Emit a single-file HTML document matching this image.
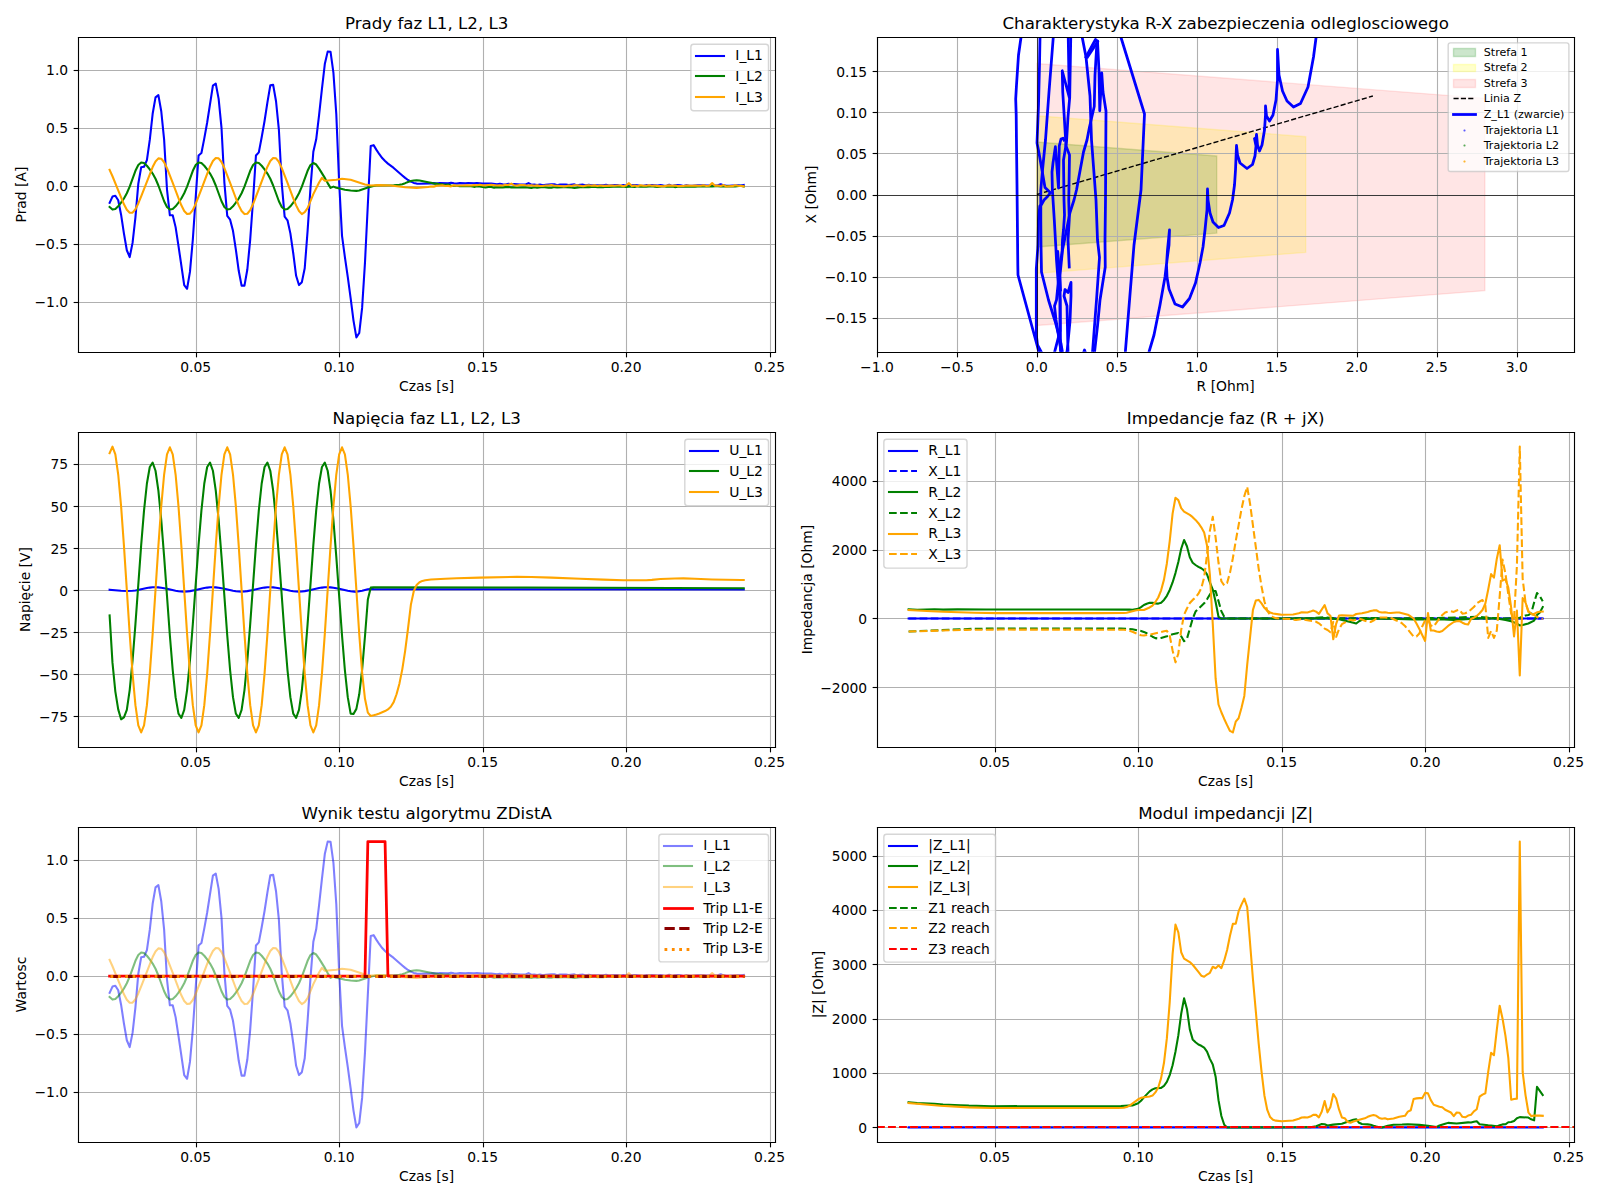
<!DOCTYPE html>
<html><head><meta charset="utf-8"><title>ZDistA</title>
<style>html,body{margin:0;padding:0;background:#fff}svg{display:block}</style></head><body>
<svg  width="1600" height="1200" viewBox="0 0 1152 864"  version="1.1">
 
 <defs>
  <style type="text/css">*{stroke-linejoin: round; stroke-linecap: butt}</style>
 </defs>
 <g id="figure_1">
  <g id="patch_1">
   <path d="M 0.0000 864.0000 L 1152.0000 864.0000 L 1152.0000 0.0000 L 0.0000 0.0000 z" style="fill: #ffffff"/>
  </g>
  <g id="axes_1">
   <g id="patch_2">
    <path d="M 56.1600 253.4400 L 558.0000 253.4400 L 558.0000 26.6400 L 56.1600 26.6400 z" style="fill: #ffffff"/>
   </g>
   <g id="matplotlib.axis_1">
    <g id="xtick_1">
     <g id="line2d_1">
      <path d="M 141.4800 253.8000 L 141.4800 27.0000" clip-path="url(#p59557860de)" style="fill: none; stroke: #b0b0b0; stroke-width: 0.8; stroke-linecap: square"/>
     </g>
     <g id="line2d_2">
      <defs>
       <path id="me4258ba3a0" d="M 0 0 
L 0 3.5 
" style="stroke: #000000; stroke-width: 0.8"/>
      </defs>
      <g>
       <use href="#me4258ba3a0" x="141.4800" y="253.8000" style="stroke: #000000; stroke-width: 0.8"/>
      </g>
     </g>
     <g id="text_1">
      <text style="font-size: 10px; font-family: 'DejaVu Sans', 'Liberation Sans', sans-serif; text-anchor: middle" x="140.896355" y="267.838438" transform="rotate(-0 140.896355 267.838438)">0.05</text>
     </g>
    </g>
    <g id="xtick_2">
     <g id="line2d_3">
      <path d="M 244.4400 253.8000 L 244.4400 27.0000" clip-path="url(#p59557860de)" style="fill: none; stroke: #b0b0b0; stroke-width: 0.8; stroke-linecap: square"/>
     </g>
     <g id="line2d_4">
      <g>
       <use href="#me4258ba3a0" x="244.4400" y="253.8000" style="stroke: #000000; stroke-width: 0.8"/>
      </g>
     </g>
     <g id="text_2">
      <text style="font-size: 10px; font-family: 'DejaVu Sans', 'Liberation Sans', sans-serif; text-anchor: middle" x="244.192768" y="267.838438" transform="rotate(-0 244.192768 267.838438)">0.10</text>
     </g>
    </g>
    <g id="xtick_3">
     <g id="line2d_5">
      <path d="M 348.1200 253.8000 L 348.1200 27.0000" clip-path="url(#p59557860de)" style="fill: none; stroke: #b0b0b0; stroke-width: 0.8; stroke-linecap: square"/>
     </g>
     <g id="line2d_6">
      <g>
       <use href="#me4258ba3a0" x="348.1200" y="253.8000" style="stroke: #000000; stroke-width: 0.8"/>
      </g>
     </g>
     <g id="text_3">
      <text style="font-size: 10px; font-family: 'DejaVu Sans', 'Liberation Sans', sans-serif; text-anchor: middle" x="347.489181" y="267.838438" transform="rotate(-0 347.489181 267.838438)">0.15</text>
     </g>
    </g>
    <g id="xtick_4">
     <g id="line2d_7">
      <path d="M 451.0800 253.8000 L 451.0800 27.0000" clip-path="url(#p59557860de)" style="fill: none; stroke: #b0b0b0; stroke-width: 0.8; stroke-linecap: square"/>
     </g>
     <g id="line2d_8">
      <g>
       <use href="#me4258ba3a0" x="451.0800" y="253.8000" style="stroke: #000000; stroke-width: 0.8"/>
      </g>
     </g>
     <g id="text_4">
      <text style="font-size: 10px; font-family: 'DejaVu Sans', 'Liberation Sans', sans-serif; text-anchor: middle" x="450.785595" y="267.838438" transform="rotate(-0 450.785595 267.838438)">0.20</text>
     </g>
    </g>
    <g id="xtick_5">
     <g id="line2d_9">
      <path d="M 554.7600 253.8000 L 554.7600 27.0000" clip-path="url(#p59557860de)" style="fill: none; stroke: #b0b0b0; stroke-width: 0.8; stroke-linecap: square"/>
     </g>
     <g id="line2d_10">
      <g>
       <use href="#me4258ba3a0" x="554.7600" y="253.8000" style="stroke: #000000; stroke-width: 0.8"/>
      </g>
     </g>
     <g id="text_5">
      <text style="font-size: 10px; font-family: 'DejaVu Sans', 'Liberation Sans', sans-serif; text-anchor: middle" x="554.082008" y="267.838438" transform="rotate(-0 554.082008 267.838438)">0.25</text>
     </g>
    </g>
    <g id="text_6">
     <text style="font-size: 10px; font-family: 'DejaVu Sans', 'Liberation Sans', sans-serif; text-anchor: middle" x="307.20358" y="281.516563" transform="rotate(-0 307.20358 281.516563)">Czas [s]</text>
    </g>
   </g>
   <g id="matplotlib.axis_2">
    <g id="ytick_1">
     <g id="line2d_11">
      <path d="M 56.5200 217.8000 L 558.3600 217.8000" clip-path="url(#p59557860de)" style="fill: none; stroke: #b0b0b0; stroke-width: 0.8; stroke-linecap: square"/>
     </g>
     <g id="line2d_12">
      <defs>
       <path id="m37318fec9a" d="M 0 0 
L -3.5 0 
" style="stroke: #000000; stroke-width: 0.8"/>
      </defs>
      <g>
       <use href="#m37318fec9a" x="56.5200" y="217.8000" style="stroke: #000000; stroke-width: 0.8"/>
      </g>
     </g>
     <g id="text_7">
      <text style="font-size: 10px; font-family: 'DejaVu Sans', 'Liberation Sans', sans-serif; text-anchor: end" x="49.09" y="221.335676" transform="rotate(-0 49.09 221.335676)">−1.0</text>
     </g>
    </g>
    <g id="ytick_2">
     <g id="line2d_13">
      <path d="M 56.5200 176.0400 L 558.3600 176.0400" clip-path="url(#p59557860de)" style="fill: none; stroke: #b0b0b0; stroke-width: 0.8; stroke-linecap: square"/>
     </g>
     <g id="line2d_14">
      <g>
       <use href="#m37318fec9a" x="56.5200" y="176.0400" style="stroke: #000000; stroke-width: 0.8"/>
      </g>
     </g>
     <g id="text_8">
      <text style="font-size: 10px; font-family: 'DejaVu Sans', 'Liberation Sans', sans-serif; text-anchor: end" x="49.09" y="179.535591" transform="rotate(-0 49.09 179.535591)">−0.5</text>
     </g>
    </g>
    <g id="ytick_3">
     <g id="line2d_15">
      <path d="M 56.5200 134.2800 L 558.3600 134.2800" clip-path="url(#p59557860de)" style="fill: none; stroke: #b0b0b0; stroke-width: 0.8; stroke-linecap: square"/>
     </g>
     <g id="line2d_16">
      <g>
       <use href="#m37318fec9a" x="56.5200" y="134.2800" style="stroke: #000000; stroke-width: 0.8"/>
      </g>
     </g>
     <g id="text_9">
      <text style="font-size: 10px; font-family: 'DejaVu Sans', 'Liberation Sans', sans-serif; text-anchor: end" x="49.09" y="137.735506" transform="rotate(-0 49.09 137.735506)">0.0</text>
     </g>
    </g>
    <g id="ytick_4">
     <g id="line2d_17">
      <path d="M 56.5200 92.5200 L 558.3600 92.5200" clip-path="url(#p59557860de)" style="fill: none; stroke: #b0b0b0; stroke-width: 0.8; stroke-linecap: square"/>
     </g>
     <g id="line2d_18">
      <g>
       <use href="#m37318fec9a" x="56.5200" y="92.5200" style="stroke: #000000; stroke-width: 0.8"/>
      </g>
     </g>
     <g id="text_10">
      <text style="font-size: 10px; font-family: 'DejaVu Sans', 'Liberation Sans', sans-serif; text-anchor: end" x="49.09" y="95.935421" transform="rotate(-0 49.09 95.935421)">0.5</text>
     </g>
    </g>
    <g id="ytick_5">
     <g id="line2d_19">
      <path d="M 56.5200 50.7600 L 558.3600 50.7600" clip-path="url(#p59557860de)" style="fill: none; stroke: #b0b0b0; stroke-width: 0.8; stroke-linecap: square"/>
     </g>
     <g id="line2d_20">
      <g>
       <use href="#m37318fec9a" x="56.5200" y="50.7600" style="stroke: #000000; stroke-width: 0.8"/>
      </g>
     </g>
     <g id="text_11">
      <text style="font-size: 10px; font-family: 'DejaVu Sans', 'Liberation Sans', sans-serif; text-anchor: end" x="49.09" y="54.135336" transform="rotate(-0 49.09 54.135336)">1.0</text>
     </g>
    </g>
    <g id="text_12">
     <text style="font-size: 10px; font-family: 'DejaVu Sans', 'Liberation Sans', sans-serif; text-anchor: middle" x="18.7275" y="140.06" transform="rotate(-90 18.7275 140.06)">Prad [A]</text>
    </g>
   </g>
   <g id="line2d_21">
    <path d="M 78.918507 146.058312 
L 80.984436 141.543903 
L 83.050364 140.958702 
L 85.116292 144.219108 
L 87.18222 154.58553 
L 89.248149 168.212357 
L 91.314077 180.167182 
L 93.380005 185.099592 
L 95.445933 174.900371 
L 97.511862 156.508333 
L 99.57779 132.264284 
L 101.643718 120.47666 
L 103.709646 120.058659 
L 105.775575 115.29345 
L 107.841503 100.74702 
L 109.907431 81.936982 
L 111.97336 70.065758 
L 114.039288 68.477355 
L 116.105216 80.097778 
L 118.171144 100.49622 
L 120.237073 136.444293 
L 122.303001 155.00353 
L 124.368929 155.00353 
L 126.434857 163.530748 
L 128.500786 176.990375 
L 132.632642 205.247232 
L 134.69857 207.922438 
L 136.764499 195.800413 
L 138.830427 172.475966 
L 142.962283 111.949443 
L 145.028212 110.193839 
L 147.09414 99.660218 
L 149.160068 88.206995 
L 153.291925 61.705741 
L 155.357853 60.200938 
L 157.423781 71.15256 
L 159.48971 92.136203 
L 161.555638 131.428282 
L 163.621566 155.421531 
L 165.687494 158.180337 
L 167.753423 166.205953 
L 169.819351 179.66558 
L 171.885279 194.964412 
L 173.951207 205.665233 
L 176.017136 205.665233 
L 178.083064 194.04481 
L 180.148992 172.475966 
L 182.21492 143.801108 
L 184.280849 111.949443 
L 186.346777 109.692238 
L 188.412705 98.824216 
L 190.478634 87.120192 
L 192.544562 73.744165 
L 194.61049 61.45494 
L 196.676418 61.12054 
L 198.742347 72.908164 
L 200.808275 93.557405 
L 202.874203 132.264284 
L 204.940131 155.923132 
L 207.00606 158.598338 
L 209.071988 168.045157 
L 211.137916 182.340786 
L 213.203844 198.559219 
L 215.269773 205.247232 
L 217.335701 203.157228 
L 219.401629 193.125208 
L 221.467557 166.205953 
L 223.533486 135.608291 
L 225.599414 109.274237 
L 227.665342 100.329019 
L 229.731271 82.940184 
L 231.797199 63.962945 
L 233.863127 46.156109 
L 235.929055 37.169091 
L 237.994984 37.294491 
L 240.060912 52.342522 
L 242.12684 82.104182 
L 244.192768 131.428282 
L 246.258697 169.80076 
L 248.324625 185.099592 
L 250.390553 199.395221 
L 252.456481 214.694052 
L 254.52241 230.828884 
L 256.588338 242.950909 
L 258.654266 239.774103 
L 260.720194 221.716466 
L 262.786123 189.1124 
L 266.917979 105.094229 
L 268.983907 104.509028 
L 271.049836 107.936635 
L 273.115764 111.029841 
L 275.181692 113.788647 
L 277.247621 115.962251 
L 279.313549 117.801455 
L 283.445405 120.894661 
L 289.64319 126.328672 
L 291.709118 128.084276 
L 293.775047 129.589079 
L 295.840975 130.759481 
L 297.906903 131.679083 
L 299.972831 132.180684 
L 302.03876 132.264284 
L 310.302473 132.025427 
L 312.368401 131.847442 
L 314.434329 132.163805 
L 316.500258 131.808057 
L 322.698042 132.031898 
L 324.763971 131.547919 
L 326.829899 132.011474 
L 328.895827 132.123402 
L 330.961755 131.830167 
L 335.093612 132.012609 
L 337.15954 131.850191 
L 341.291397 131.971226 
L 343.357325 131.862125 
L 347.489181 132.226021 
L 353.686966 132.178652 
L 357.818823 132.689062 
L 359.884751 132.32946 
L 361.950679 132.669018 
L 364.016608 132.839449 
L 366.082536 132.395258 
L 368.148464 132.663695 
L 370.214392 132.453194 
L 374.346249 132.874976 
L 376.412177 132.942181 
L 378.478105 132.831705 
L 380.544034 131.81982 
L 382.609962 132.979789 
L 384.67589 132.908237 
L 386.741818 133.212331 
L 388.807747 132.930057 
L 390.873675 133.324679 
L 392.939603 133.007042 
L 397.07146 132.77175 
L 399.137388 132.658379 
L 401.203316 133.358671 
L 403.269245 132.891552 
L 405.335173 132.814732 
L 407.401101 132.878629 
L 409.467029 133.294515 
L 413.598886 132.744973 
L 415.664814 133.463377 
L 417.730742 133.067611 
L 419.796671 132.951417 
L 421.862599 133.346194 
L 423.928527 133.095485 
L 425.994455 133.457863 
L 434.258169 133.319941 
L 436.324097 133.118236 
L 438.390025 133.530885 
L 442.521882 133.166941 
L 444.58781 133.267324 
L 446.653738 133.678097 
L 448.719666 133.278939 
L 450.785595 133.534676 
L 452.851523 133.358219 
L 454.917451 133.38 
L 456.983379 133.192083 
L 459.049308 133.426638 
L 461.115236 133.842523 
L 463.181164 133.745456 
L 465.247092 133.310421 
L 467.313021 133.521299 
L 469.378949 133.233551 
L 473.510806 133.6361 
L 475.576734 133.2574 
L 477.642662 133.656448 
L 479.70859 133.920781 
L 481.774519 133.064523 
L 483.840447 133.899283 
L 485.906375 133.371003 
L 487.972303 133.311871 
L 490.038232 133.481433 
L 492.10416 133.868078 
L 494.170088 133.308187 
L 496.236016 133.825687 
L 498.301945 133.809301 
L 502.433801 133.37184 
L 504.499729 133.477992 
L 506.565658 133.375343 
L 508.631586 133.641594 
L 510.697514 133.588937 
L 512.763443 133.79469 
L 516.895299 133.44122 
L 518.961227 132.628725 
L 521.027156 133.473969 
L 523.093084 133.697233 
L 525.159012 133.705307 
L 527.22494 133.577388 
L 529.290869 133.630383 
L 531.356797 133.469922 
L 533.422725 133.560546 
L 535.488653 133.238154 
L 535.488653 133.238154 
" clip-path="url(#p59557860de)" style="fill: none; stroke: #0000ff; stroke-width: 1.5; stroke-linecap: square"/>
   </g>
   <g id="line2d_22">
    <path d="M 78.918507 149.063989 
L 80.984436 150.904217 
L 83.050364 150.472849 
L 85.116292 148.542582 
L 87.18222 145.934057 
L 89.248149 142.914741 
L 91.314077 139.162752 
L 93.380005 134.307392 
L 97.511862 122.967303 
L 99.57779 118.808586 
L 101.643718 116.968358 
L 103.709646 117.399726 
L 105.775575 119.329993 
L 107.841503 121.938518 
L 109.907431 124.957834 
L 111.97336 128.709823 
L 114.039288 133.565183 
L 118.171144 144.905272 
L 120.237073 149.063989 
L 122.303001 150.904217 
L 124.368929 150.472849 
L 126.434857 148.542582 
L 128.500786 145.934057 
L 130.566714 142.914741 
L 132.632642 139.162752 
L 134.69857 134.307392 
L 138.830427 122.967303 
L 140.896355 118.808586 
L 142.962283 116.968358 
L 145.028212 117.399726 
L 147.09414 119.329993 
L 149.160068 121.938518 
L 151.225997 124.957834 
L 153.291925 128.709823 
L 155.357853 133.565183 
L 159.48971 144.905272 
L 161.555638 149.063989 
L 163.621566 150.904217 
L 165.687494 150.472849 
L 167.753423 148.542582 
L 169.819351 145.934057 
L 171.885279 142.914741 
L 173.951207 139.162752 
L 176.017136 134.307392 
L 180.148992 122.967303 
L 182.21492 118.808586 
L 184.280849 116.968358 
L 186.346777 117.399726 
L 188.412705 119.329993 
L 190.478634 121.938518 
L 192.544562 124.957834 
L 194.61049 128.709823 
L 196.676418 133.565183 
L 200.808275 144.905272 
L 202.874203 149.063989 
L 204.940131 150.904217 
L 207.00606 150.472849 
L 209.071988 148.542582 
L 211.137916 145.934057 
L 213.203844 142.914741 
L 215.269773 139.162752 
L 217.335701 134.307392 
L 221.467557 122.967303 
L 223.533486 118.808586 
L 225.599414 117.383454 
L 227.665342 118.470256 
L 229.731271 121.396262 
L 233.863127 128.084276 
L 235.929055 131.846283 
L 237.994984 135.27389 
L 240.060912 134.354288 
L 242.12684 135.19029 
L 246.258697 136.139152 
L 248.324625 136.611493 
L 252.456481 137.113094 
L 256.588338 137.447495 
L 258.654266 137.096374 
L 262.786123 135.691891 
L 264.852051 134.93949 
L 268.983907 133.936288 
L 271.049836 133.518287 
L 283.445405 133.438487 
L 287.577262 133.005145 
L 289.64319 132.598685 
L 291.709118 131.866643 
L 293.775047 131.010282 
L 295.840975 130.34148 
L 297.906903 129.942479 
L 299.972831 129.756279 
L 302.03876 129.958283 
L 308.236544 131.216819 
L 310.302473 131.599233 
L 312.368401 132.199488 
L 314.434329 132.198955 
L 316.500258 132.763728 
L 318.566186 132.778768 
L 320.632114 133.004677 
L 322.698042 132.883601 
L 324.763971 133.53857 
L 326.829899 133.754866 
L 328.895827 133.772879 
L 330.961755 133.997093 
L 337.15954 134.076754 
L 339.225468 134.040611 
L 341.291397 134.539655 
L 343.357325 134.057507 
L 345.423253 134.230897 
L 349.55511 135.019115 
L 351.621038 134.679463 
L 353.686966 134.68167 
L 355.752895 135.105076 
L 357.818823 134.733735 
L 361.950679 134.923993 
L 364.016608 134.708896 
L 366.082536 134.665099 
L 368.148464 134.932459 
L 370.214392 134.829199 
L 372.280321 134.991842 
L 374.346249 135.02704 
L 378.478105 134.829304 
L 382.609962 135.30137 
L 384.67589 134.837862 
L 386.741818 135.205509 
L 390.873675 134.640761 
L 395.005532 135.127385 
L 397.07146 135.164585 
L 399.137388 134.714384 
L 401.203316 134.900873 
L 405.335173 134.71409 
L 407.401101 134.860434 
L 411.532958 134.973542 
L 413.598886 135.31047 
L 417.730742 134.764263 
L 419.796671 134.759852 
L 421.862599 134.640622 
L 423.928527 134.706605 
L 428.060384 134.508278 
L 430.126312 134.765524 
L 432.19224 134.643474 
L 434.258169 134.842623 
L 436.324097 134.390331 
L 438.390025 134.526495 
L 444.58781 134.298558 
L 446.653738 134.473759 
L 448.719666 134.318253 
L 450.785595 134.67727 
L 452.851523 134.354204 
L 454.917451 134.392451 
L 456.983379 134.675242 
L 459.049308 134.170129 
L 461.115236 134.500593 
L 463.181164 134.257864 
L 465.247092 134.431636 
L 467.313021 134.184725 
L 469.378949 134.120966 
L 471.444877 134.468806 
L 473.510806 134.57567 
L 477.642662 134.157771 
L 479.70859 134.351965 
L 481.774519 134.382784 
L 483.840447 134.189038 
L 485.906375 134.723044 
L 487.972303 134.363267 
L 490.038232 134.474483 
L 492.10416 134.184988 
L 496.236016 134.403653 
L 498.301945 134.268119 
L 500.367873 134.446449 
L 502.433801 134.195315 
L 504.499729 134.299629 
L 508.631586 134.290976 
L 510.697514 134.011672 
L 512.763443 134.175789 
L 514.829371 134.063535 
L 516.895299 134.064924 
L 518.961227 134.274118 
L 521.027156 134.038495 
L 529.290869 134.185969 
L 533.422725 133.742041 
L 535.488653 134.242285 
L 535.488653 134.242285 
" clip-path="url(#p59557860de)" style="fill: none; stroke: #008000; stroke-width: 1.5; stroke-linecap: square"/>
   </g>
   <g id="line2d_23">
    <path d="M 78.918507 122.259868 
L 80.984436 126.896515 
L 85.116292 137.024858 
L 89.248149 147.078477 
L 91.314077 151.034565 
L 93.380005 153.223619 
L 95.445933 153.078789 
L 97.511862 150.631232 
L 99.57779 146.482999 
L 101.643718 141.440162 
L 109.907431 120.257497 
L 111.97336 116.217269 
L 114.039288 114.025924 
L 116.105216 114.243246 
L 118.171144 116.813616 
L 120.237073 121.103082 
L 124.368929 131.736963 
L 128.500786 142.690685 
L 130.566714 147.791724 
L 132.632642 151.859649 
L 134.69857 154.051749 
L 136.764499 153.810563 
L 138.830427 151.199763 
L 140.896355 146.863805 
L 145.028212 136.148526 
L 149.160068 125.1408 
L 151.225997 120.022701 
L 153.291925 115.945657 
L 155.357853 113.753309 
L 157.423781 114.002352 
L 159.48971 116.62646 
L 161.555638 120.977724 
L 165.687494 131.719798 
L 169.819351 142.745301 
L 171.885279 147.869017 
L 173.951207 151.949062 
L 176.017136 154.141492 
L 178.083064 153.889863 
L 180.148992 151.261374 
L 182.21492 146.905072 
L 186.346777 136.154177 
L 190.478634 125.122821 
L 192.544562 119.997256 
L 194.61049 115.916223 
L 196.676418 113.723767 
L 198.742347 113.976246 
L 200.808275 116.606178 
L 202.874203 120.964139 
L 207.00606 131.717938 
L 211.137916 142.75122 
L 213.203844 147.877393 
L 215.269773 151.958752 
L 217.335701 154.151217 
L 219.401629 152.746326 
L 221.467557 149.82032 
L 225.599414 139.788299 
L 229.731271 131.428282 
L 231.797199 128.084276 
L 233.863127 130.17428 
L 242.12684 129.421878 
L 246.258697 128.753077 
L 252.456481 129.421878 
L 262.786123 132.849485 
L 266.917979 133.518287 
L 273.115764 133.267486 
L 281.379477 133.518287 
L 291.709118 134.772289 
L 299.972831 135.27389 
L 308.236544 134.605089 
L 310.302473 134.242822 
L 312.368401 134.367604 
L 314.434329 133.799685 
L 316.500258 133.514724 
L 318.566186 133.389206 
L 320.632114 133.89431 
L 322.698042 133.843054 
L 324.763971 134.221089 
L 326.829899 133.306575 
L 328.895827 133.750247 
L 330.961755 133.578158 
L 333.027684 133.570615 
L 335.093612 133.434709 
L 337.15954 133.449379 
L 339.225468 133.619072 
L 341.291397 133.281528 
L 343.357325 133.381398 
L 345.423253 133.009184 
L 347.489181 133.451962 
L 349.55511 133.424135 
L 351.621038 133.143468 
L 353.686966 133.009251 
L 357.818823 133.550689 
L 359.884751 133.422721 
L 361.950679 133.538741 
L 364.016608 132.958959 
L 366.082536 133.23019 
L 368.148464 132.156162 
L 370.214392 133.421759 
L 372.280321 133.657512 
L 374.346249 133.244932 
L 376.412177 133.145275 
L 378.478105 133.435031 
L 380.544034 133.607969 
L 382.609962 133.351678 
L 384.67589 133.736763 
L 386.741818 133.47284 
L 388.807747 133.863953 
L 390.873675 133.930033 
L 392.939603 133.545777 
L 395.005532 133.604266 
L 397.07146 133.212596 
L 399.137388 133.761625 
L 401.203316 133.686671 
L 405.335173 134.163723 
L 407.401101 134.142714 
L 409.467029 133.581114 
L 411.532958 133.993541 
L 413.598886 133.417018 
L 415.664814 133.344089 
L 419.796671 134.123217 
L 421.862599 133.647345 
L 423.928527 133.423365 
L 425.994455 133.763289 
L 428.060384 133.467298 
L 430.126312 133.945621 
L 432.19224 133.554045 
L 434.258169 133.826563 
L 440.455953 133.671608 
L 442.521882 133.734754 
L 444.58781 133.534751 
L 446.653738 133.517012 
L 448.719666 134.066994 
L 450.785595 133.580628 
L 452.851523 131.881698 
L 454.917451 133.911698 
L 456.983379 133.627584 
L 459.049308 134.057639 
L 461.115236 133.365715 
L 463.181164 133.78748 
L 465.247092 133.748756 
L 467.313021 133.429924 
L 469.378949 133.767208 
L 471.444877 133.582384 
L 473.510806 133.996452 
L 475.576734 133.877835 
L 477.642662 134.085347 
L 481.774519 133.479889 
L 483.840447 133.683569 
L 485.906375 133.519051 
L 487.972303 133.999379 
L 492.10416 133.861119 
L 494.170088 133.601936 
L 498.301945 133.751727 
L 500.367873 133.592915 
L 502.433801 133.788219 
L 504.499729 133.756824 
L 506.565658 133.425349 
L 508.631586 133.900817 
L 510.697514 133.709141 
L 512.763443 131.847055 
L 514.829371 133.731755 
L 516.895299 133.581286 
L 518.961227 133.911824 
L 521.027156 133.270149 
L 523.093084 134.326231 
L 525.159012 134.047688 
L 527.22494 134.028682 
L 529.290869 133.359307 
L 531.356797 133.67833 
L 535.488653 134.090553 
L 535.488653 134.090553 
" clip-path="url(#p59557860de)" style="fill: none; stroke: #ffa500; stroke-width: 1.5; stroke-linecap: square"/>
   </g>
   <g id="patch_3">
    <path d="M 56.5200 253.8000 L 56.5200 27.0000" style="fill: none; stroke: #000000; stroke-width: 0.8; stroke-linejoin: miter; stroke-linecap: square"/>
   </g>
   <g id="patch_4">
    <path d="M 558.3600 253.8000 L 558.3600 27.0000" style="fill: none; stroke: #000000; stroke-width: 0.8; stroke-linejoin: miter; stroke-linecap: square"/>
   </g>
   <g id="patch_5">
    <path d="M 56.5200 253.8000 L 558.3600 253.8000" style="fill: none; stroke: #000000; stroke-width: 0.8; stroke-linejoin: miter; stroke-linecap: square"/>
   </g>
   <g id="patch_6">
    <path d="M 56.5200 27.0000 L 558.3600 27.0000" style="fill: none; stroke: #000000; stroke-width: 0.8; stroke-linejoin: miter; stroke-linecap: square"/>
   </g>
   <g id="text_13">
    <text style="font-size: 12px; font-family: 'DejaVu Sans', 'Liberation Sans', sans-serif; text-anchor: middle" x="307.20358" y="20.88" transform="rotate(-0 307.20358 20.88)">Prady faz L1, L2, L3</text>
   </g>
   <g id="legend_1">
    <g id="patch_7">
     <path d="M 499.432786 79.74875 
L 551.317161 79.74875 
Q 553.317161 79.74875 553.317161 77.74875 
L 553.317161 33.88 
Q 553.317161 31.88 551.317161 31.88 
L 499.432786 31.88 
Q 497.432786 31.88 497.432786 33.88 
L 497.432786 77.74875 
Q 497.432786 79.74875 499.432786 79.74875 
z
" style="fill: #ffffff; opacity: 0.8; stroke: #cccccc; stroke-linejoin: miter"/>
    </g>
    <g id="line2d_24">
     <path d="M 501.1200 40.3200 L 511.2000 40.3200 L 521.2800 40.3200" style="fill: none; stroke: #0000ff; stroke-width: 1.5; stroke-linecap: square"/>
    </g>
    <g id="text_14">
     <text style="font-size: 10px; font-family: 'DejaVu Sans', 'Liberation Sans', sans-serif; text-anchor: start" x="529.432786" y="43.478438" transform="rotate(-0 529.432786 43.478438)">I_L1</text>
    </g>
    <g id="line2d_25">
     <path d="M 501.1200 54.7200 L 511.2000 54.7200 L 521.2800 54.7200" style="fill: none; stroke: #008000; stroke-width: 1.5; stroke-linecap: square"/>
    </g>
    <g id="text_15">
     <text style="font-size: 10px; font-family: 'DejaVu Sans', 'Liberation Sans', sans-serif; text-anchor: start" x="529.432786" y="58.434687" transform="rotate(-0 529.432786 58.434687)">I_L2</text>
    </g>
    <g id="line2d_26">
     <path d="M 501.1200 69.8400 L 511.2000 69.8400 L 521.2800 69.8400" style="fill: none; stroke: #ffa500; stroke-width: 1.5; stroke-linecap: square"/>
    </g>
    <g id="text_16">
     <text style="font-size: 10px; font-family: 'DejaVu Sans', 'Liberation Sans', sans-serif; text-anchor: start" x="529.432786" y="73.390938" transform="rotate(-0 529.432786 73.390938)">I_L3</text>
    </g>
   </g>
  </g>
  <g id="axes_2">
   <g id="patch_8">
    <path d="M 631.4400 253.4400 L 1133.2800 253.4400 L 1133.2800 26.6400 L 631.4400 26.6400 z" style="fill: #ffffff"/>
   </g>
   <g id="patch_9">
    <path d="M 746.559716 177.88517 
L 876.032956 167.823675 
L 876.032956 112.296325 
L 746.559716 102.23483 
z
" clip-path="url(#p8312197129)" style="fill: #008000; fill-opacity: 0.2; stroke: #008000; stroke-opacity: 0.2; stroke-linejoin: miter"/>
   </g>
   <g id="patch_10">
    <path d="M 746.559716 196.797755 
L 940.078438 181.705512 
L 940.078438 98.414488 
L 746.559716 83.322245 
z
" clip-path="url(#p8312197129)" style="fill: #ffff00; fill-opacity: 0.2; stroke: #ffff00; stroke-opacity: 0.2; stroke-linejoin: miter"/>
   </g>
   <g id="patch_11">
    <path d="M 746.559716 234.386517 
L 1069.09092 209.295663 
L 1069.09092 70.824337 
L 746.559716 45.733483 
z
" clip-path="url(#p8312197129)" style="fill: #ff0000; fill-opacity: 0.1; stroke: #ff0000; stroke-opacity: 0.1; stroke-linejoin: miter"/>
   </g>
   <g id="matplotlib.axis_3">
    <g id="xtick_6">
     <g id="line2d_27">
      <path d="M 631.8000 253.8000 L 631.8000 27.0000" clip-path="url(#p8312197129)" style="fill: none; stroke: #b0b0b0; stroke-width: 0.8; stroke-linecap: square"/>
     </g>
     <g id="line2d_28">
      <g>
       <use href="#me4258ba3a0" x="631.8000" y="253.8000" style="stroke: #000000; stroke-width: 0.8"/>
      </g>
     </g>
     <g id="text_17">
      <text style="font-size: 10px; font-family: 'DejaVu Sans', 'Liberation Sans', sans-serif; text-anchor: middle" x="631.37" y="267.838438" transform="rotate(-0 631.37 267.838438)">−1.0</text>
     </g>
    </g>
    <g id="xtick_7">
     <g id="line2d_29">
      <path d="M 689.4000 253.8000 L 689.4000 27.0000" clip-path="url(#p8312197129)" style="fill: none; stroke: #b0b0b0; stroke-width: 0.8; stroke-linecap: square"/>
     </g>
     <g id="line2d_30">
      <g>
       <use href="#me4258ba3a0" x="689.4000" y="253.8000" style="stroke: #000000; stroke-width: 0.8"/>
      </g>
     </g>
     <g id="text_18">
      <text style="font-size: 10px; font-family: 'DejaVu Sans', 'Liberation Sans', sans-serif; text-anchor: middle" x="688.964858" y="267.838438" transform="rotate(-0 688.964858 267.838438)">−0.5</text>
     </g>
    </g>
    <g id="xtick_8">
     <g id="line2d_31">
      <path d="M 747.0000 253.8000 L 747.0000 27.0000" clip-path="url(#p8312197129)" style="fill: none; stroke: #b0b0b0; stroke-width: 0.8; stroke-linecap: square"/>
     </g>
     <g id="line2d_32">
      <g>
       <use href="#me4258ba3a0" x="747.0000" y="253.8000" style="stroke: #000000; stroke-width: 0.8"/>
      </g>
     </g>
     <g id="text_19">
      <text style="font-size: 10px; font-family: 'DejaVu Sans', 'Liberation Sans', sans-serif; text-anchor: middle" x="746.559716" y="267.838438" transform="rotate(-0 746.559716 267.838438)">0.0</text>
     </g>
    </g>
    <g id="xtick_9">
     <g id="line2d_33">
      <path d="M 804.6000 253.8000 L 804.6000 27.0000" clip-path="url(#p8312197129)" style="fill: none; stroke: #b0b0b0; stroke-width: 0.8; stroke-linecap: square"/>
     </g>
     <g id="line2d_34">
      <g>
       <use href="#me4258ba3a0" x="804.6000" y="253.8000" style="stroke: #000000; stroke-width: 0.8"/>
      </g>
     </g>
     <g id="text_20">
      <text style="font-size: 10px; font-family: 'DejaVu Sans', 'Liberation Sans', sans-serif; text-anchor: middle" x="804.154574" y="267.838438" transform="rotate(-0 804.154574 267.838438)">0.5</text>
     </g>
    </g>
    <g id="xtick_10">
     <g id="line2d_35">
      <path d="M 862.2000 253.8000 L 862.2000 27.0000" clip-path="url(#p8312197129)" style="fill: none; stroke: #b0b0b0; stroke-width: 0.8; stroke-linecap: square"/>
     </g>
     <g id="line2d_36">
      <g>
       <use href="#me4258ba3a0" x="862.2000" y="253.8000" style="stroke: #000000; stroke-width: 0.8"/>
      </g>
     </g>
     <g id="text_21">
      <text style="font-size: 10px; font-family: 'DejaVu Sans', 'Liberation Sans', sans-serif; text-anchor: middle" x="861.749432" y="267.838438" transform="rotate(-0 861.749432 267.838438)">1.0</text>
     </g>
    </g>
    <g id="xtick_11">
     <g id="line2d_37">
      <path d="M 919.8000 253.8000 L 919.8000 27.0000" clip-path="url(#p8312197129)" style="fill: none; stroke: #b0b0b0; stroke-width: 0.8; stroke-linecap: square"/>
     </g>
     <g id="line2d_38">
      <g>
       <use href="#me4258ba3a0" x="919.8000" y="253.8000" style="stroke: #000000; stroke-width: 0.8"/>
      </g>
     </g>
     <g id="text_22">
      <text style="font-size: 10px; font-family: 'DejaVu Sans', 'Liberation Sans', sans-serif; text-anchor: middle" x="919.344289" y="267.838438" transform="rotate(-0 919.344289 267.838438)">1.5</text>
     </g>
    </g>
    <g id="xtick_12">
     <g id="line2d_39">
      <path d="M 977.4000 253.8000 L 977.4000 27.0000" clip-path="url(#p8312197129)" style="fill: none; stroke: #b0b0b0; stroke-width: 0.8; stroke-linecap: square"/>
     </g>
     <g id="line2d_40">
      <g>
       <use href="#me4258ba3a0" x="977.4000" y="253.8000" style="stroke: #000000; stroke-width: 0.8"/>
      </g>
     </g>
     <g id="text_23">
      <text style="font-size: 10px; font-family: 'DejaVu Sans', 'Liberation Sans', sans-serif; text-anchor: middle" x="976.939147" y="267.838438" transform="rotate(-0 976.939147 267.838438)">2.0</text>
     </g>
    </g>
    <g id="xtick_13">
     <g id="line2d_41">
      <path d="M 1035.0000 253.8000 L 1035.0000 27.0000" clip-path="url(#p8312197129)" style="fill: none; stroke: #b0b0b0; stroke-width: 0.8; stroke-linecap: square"/>
     </g>
     <g id="line2d_42">
      <g>
       <use href="#me4258ba3a0" x="1035.0000" y="253.8000" style="stroke: #000000; stroke-width: 0.8"/>
      </g>
     </g>
     <g id="text_24">
      <text style="font-size: 10px; font-family: 'DejaVu Sans', 'Liberation Sans', sans-serif; text-anchor: middle" x="1034.534005" y="267.838438" transform="rotate(-0 1034.534005 267.838438)">2.5</text>
     </g>
    </g>
    <g id="xtick_14">
     <g id="line2d_43">
      <path d="M 1092.6000 253.8000 L 1092.6000 27.0000" clip-path="url(#p8312197129)" style="fill: none; stroke: #b0b0b0; stroke-width: 0.8; stroke-linecap: square"/>
     </g>
     <g id="line2d_44">
      <g>
       <use href="#me4258ba3a0" x="1092.6000" y="253.8000" style="stroke: #000000; stroke-width: 0.8"/>
      </g>
     </g>
     <g id="text_25">
      <text style="font-size: 10px; font-family: 'DejaVu Sans', 'Liberation Sans', sans-serif; text-anchor: middle" x="1092.128863" y="267.838438" transform="rotate(-0 1092.128863 267.838438)">3.0</text>
     </g>
    </g>
    <g id="text_26">
     <text style="font-size: 10px; font-family: 'DejaVu Sans', 'Liberation Sans', sans-serif; text-anchor: middle" x="882.48358" y="281.516563" transform="rotate(-0 882.48358 281.516563)">R [Ohm]</text>
    </g>
   </g>
   <g id="matplotlib.axis_4">
    <g id="ytick_6">
     <g id="line2d_45">
      <path d="M 631.8000 229.3200 L 1133.6400 229.3200" clip-path="url(#p8312197129)" style="fill: none; stroke: #b0b0b0; stroke-width: 0.8; stroke-linecap: square"/>
     </g>
     <g id="line2d_46">
      <g>
       <use href="#m37318fec9a" x="631.8000" y="229.3200" style="stroke: #000000; stroke-width: 0.8"/>
      </g>
     </g>
     <g id="text_27">
      <text style="font-size: 10px; font-family: 'DejaVu Sans', 'Liberation Sans', sans-serif; text-anchor: end" x="624.37" y="232.51196" transform="rotate(-0 624.37 232.51196)">−0.15</text>
     </g>
    </g>
    <g id="ytick_7">
     <g id="line2d_47">
      <path d="M 631.8000 199.8000 L 1133.6400 199.8000" clip-path="url(#p8312197129)" style="fill: none; stroke: #b0b0b0; stroke-width: 0.8; stroke-linecap: square"/>
     </g>
     <g id="line2d_48">
      <g>
       <use href="#m37318fec9a" x="631.8000" y="199.8000" style="stroke: #000000; stroke-width: 0.8"/>
      </g>
     </g>
     <g id="text_28">
      <text style="font-size: 10px; font-family: 'DejaVu Sans', 'Liberation Sans', sans-serif; text-anchor: end" x="624.37" y="202.961046" transform="rotate(-0 624.37 202.961046)">−0.10</text>
     </g>
    </g>
    <g id="ytick_8">
     <g id="line2d_49">
      <path d="M 631.8000 170.2800 L 1133.6400 170.2800" clip-path="url(#p8312197129)" style="fill: none; stroke: #b0b0b0; stroke-width: 0.8; stroke-linecap: square"/>
     </g>
     <g id="line2d_50">
      <g>
       <use href="#m37318fec9a" x="631.8000" y="170.2800" style="stroke: #000000; stroke-width: 0.8"/>
      </g>
     </g>
     <g id="text_29">
      <text style="font-size: 10px; font-family: 'DejaVu Sans', 'Liberation Sans', sans-serif; text-anchor: end" x="624.37" y="173.410133" transform="rotate(-0 624.37 173.410133)">−0.05</text>
     </g>
    </g>
    <g id="ytick_9">
     <g id="line2d_51">
      <path d="M 631.8000 140.7600 L 1133.6400 140.7600" clip-path="url(#p8312197129)" style="fill: none; stroke: #b0b0b0; stroke-width: 0.8; stroke-linecap: square"/>
     </g>
     <g id="line2d_52">
      <g>
       <use href="#m37318fec9a" x="631.8000" y="140.7600" style="stroke: #000000; stroke-width: 0.8"/>
      </g>
     </g>
     <g id="text_30">
      <text style="font-size: 10px; font-family: 'DejaVu Sans', 'Liberation Sans', sans-serif; text-anchor: end" x="624.37" y="143.859219" transform="rotate(-0 624.37 143.859219)">0.00</text>
     </g>
    </g>
    <g id="ytick_10">
     <g id="line2d_53">
      <path d="M 631.8000 110.5200 L 1133.6400 110.5200" clip-path="url(#p8312197129)" style="fill: none; stroke: #b0b0b0; stroke-width: 0.8; stroke-linecap: square"/>
     </g>
     <g id="line2d_54">
      <g>
       <use href="#m37318fec9a" x="631.8000" y="110.5200" style="stroke: #000000; stroke-width: 0.8"/>
      </g>
     </g>
     <g id="text_31">
      <text style="font-size: 10px; font-family: 'DejaVu Sans', 'Liberation Sans', sans-serif; text-anchor: end" x="624.37" y="114.308305" transform="rotate(-0 624.37 114.308305)">0.05</text>
     </g>
    </g>
    <g id="ytick_11">
     <g id="line2d_55">
      <path d="M 631.8000 81.0000 L 1133.6400 81.0000" clip-path="url(#p8312197129)" style="fill: none; stroke: #b0b0b0; stroke-width: 0.8; stroke-linecap: square"/>
     </g>
     <g id="line2d_56">
      <g>
       <use href="#m37318fec9a" x="631.8000" y="81.0000" style="stroke: #000000; stroke-width: 0.8"/>
      </g>
     </g>
     <g id="text_32">
      <text style="font-size: 10px; font-family: 'DejaVu Sans', 'Liberation Sans', sans-serif; text-anchor: end" x="624.37" y="84.757391" transform="rotate(-0 624.37 84.757391)">0.10</text>
     </g>
    </g>
    <g id="ytick_12">
     <g id="line2d_57">
      <path d="M 631.8000 51.4800 L 1133.6400 51.4800" clip-path="url(#p8312197129)" style="fill: none; stroke: #b0b0b0; stroke-width: 0.8; stroke-linecap: square"/>
     </g>
     <g id="line2d_58">
      <g>
       <use href="#m37318fec9a" x="631.8000" y="51.4800" style="stroke: #000000; stroke-width: 0.8"/>
      </g>
     </g>
     <g id="text_33">
      <text style="font-size: 10px; font-family: 'DejaVu Sans', 'Liberation Sans', sans-serif; text-anchor: end" x="624.37" y="55.206477" transform="rotate(-0 624.37 55.206477)">0.15</text>
     </g>
    </g>
    <g id="text_34">
     <text style="font-size: 10px; font-family: 'DejaVu Sans', 'Liberation Sans', sans-serif; text-anchor: middle" x="587.645" y="140.06" transform="rotate(-90 587.645 140.06)">X [Ohm]</text>
    </g>
   </g>
   <g id="line2d_59">
    <path d="M 746.559716 140.06 
L 988.458119 69.137807 
" clip-path="url(#p8312197129)" style="fill: none; stroke-dasharray: 3.7,1.6; stroke-dashoffset: 0; stroke: #000000"/>
   </g>
   <g id="line2d_60">
    <path d="M 737.279988 7.200025 
L 735.119987 27.000024 
L 733.319987 39.600024 
L 731.879987 61.200023 
L 731.303987 71.280022 
L 731.663987 82.800022 
L 731.879987 104.400021 
L 732.239987 133.20002 
L 732.815987 190.800018 
L 732.959987 198.000018 
L 746.639988 248.400016 
L 748.079988 253.800016 
L 753.119988 273.600015 
" clip-path="url(#p8312197129)" style="fill: none; stroke: #0000ff; stroke-width: 2; stroke-linecap: square"/>
   </g>
   <g id="line2d_61">
    <path d="M 749.015988 7.200025 
L 748.799988 27.000024 
L 748.439988 46.800023 
L 747.719988 75.600022 
L 746.639988 102.960021 
L 748.079988 110.160021 
L 752.399988 135.00002 
L 756.359988 138.74402 
L 754.199988 141.48002 
L 751.679988 144.00002 
L 749.879988 147.24002 
L 748.655988 148.32002 
L 747.719988 158.400019 
L 747.359988 176.400019 
L 746.135988 193.680018 
L 746.135988 241.200016 
L 746.999988 248.400016 
L 749.879988 253.800016 
L 755.999988 273.600015 
" clip-path="url(#p8312197129)" style="fill: none; stroke: #0000ff; stroke-width: 2; stroke-linecap: square"/>
   </g>
   <g id="line2d_62">
    <path d="M 760.031988 7.200025 
L 758.339988 27.000024 
L 755.279988 66.240023 
L 752.759988 100.800021 
L 750.599988 122.400021 
L 749.375988 136.80002 
L 749.375988 158.400019 
L 749.519988 176.400019 
L 749.879988 195.840018 
L 754.919988 216.000017 
L 759.599988 231.120017 
L 763.919988 247.320016 
L 764.999988 253.800016 
L 768.959989 273.600015 
" clip-path="url(#p8312197129)" style="fill: none; stroke: #0000ff; stroke-width: 2; stroke-linecap: square"/>
   </g>
   <g id="line2d_63">
    <path d="M 766.079988 100.800021 
L 765.359988 99.540021 
L 763.919988 100.080021 
L 762.659988 105.120021 
L 762.119988 135.36002 
L 759.887988 105.660021 
L 758.159988 117.360021 
L 757.439988 123.840021 
L 757.727988 136.80002 
L 759.095988 158.400019 
L 760.319988 180.000019 
L 760.679988 187.200018 
L 761.759988 201.600018 
L 763.199988 216.000017 
L 763.199988 238.320017 
L 759.239988 253.800016 
L 755.999988 267.840015 
" clip-path="url(#p8312197129)" style="fill: none; stroke: #0000ff; stroke-width: 2; stroke-linecap: square"/>
   </g>
   <g id="line2d_64">
    <path d="M 768.887989 7.200025 
L 769.139989 27.000024 
L 769.895989 70.200022 
L 764.819988 50.940023 
L 765.179988 66.240023 
L 767.519989 105.120021 
L 770.039989 111.600021 
L 769.499989 144.00002 
L 769.859989 158.400019 
L 768.959989 172.800019 
L 769.859989 192.240018 
" clip-path="url(#p8312197129)" style="fill: none; stroke: #0000ff; stroke-width: 2; stroke-linecap: square"/>
   </g>
   <g id="line2d_65">
    <path d="M 771.263989 7.200025 
L 770.939989 27.000024 
L 770.183989 70.200022 
L 768.959989 84.240022 
L 767.879989 102.240021 
L 765.719988 115.200021 
L 766.079988 144.00002 
L 766.439988 154.800019 
L 765.719988 165.600019 
L 764.999988 172.800019 
L 764.639988 183.600018 
L 763.199988 198.000018 
L 763.343988 216.000017 
L 763.559988 253.800016 
L 763.559988 273.600015 
" clip-path="url(#p8312197129)" style="fill: none; stroke: #0000ff; stroke-width: 2; stroke-linecap: square"/>
   </g>
   <g id="line2d_66">
    <path d="M 762.839988 198.000018 
L 761.579988 181.080019 
L 763.559988 208.800018 
" clip-path="url(#p8312197129)" style="fill: none; stroke: #0000ff; stroke-width: 2; stroke-linecap: square"/>
   </g>
   <g id="line2d_67">
    <path d="M 789.839989 29.520024 
L 788.399989 54.000023 
L 787.859989 76.680022 
L 784.439989 91.440022 
L 782.639989 100.800021 
L 780.119989 109.440021 
L 775.079989 136.80002 
L 773.279989 144.00002 
L 770.399989 153.00002 
L 767.879989 165.600019 
L 764.999988 180.000019 
L 763.199988 190.800018 
L 760.679988 216.000017 
L 759.239988 220.320017 
L 760.319988 230.400017 
L 763.199988 248.400016 
L 764.279988 253.800016 
L 766.079988 266.400016 
" clip-path="url(#p8312197129)" style="fill: none; stroke: #0000ff; stroke-width: 2; stroke-linecap: square"/>
   </g>
   <g id="line2d_68">
    <path d="M 768.239989 253.800016 
L 770.399989 231.120017 
L 771.119989 213.120017 
L 771.119989 203.400018 
L 768.959989 210.600018 
L 766.799989 208.440018 
L 766.079988 213.120017 
L 768.239989 220.320017 
L 768.959989 253.800016 
L 769.103989 273.600015 
" clip-path="url(#p8312197129)" style="fill: none; stroke: #0000ff; stroke-width: 2; stroke-linecap: square"/>
   </g>
   <g id="line2d_69">
    <path d="M 768.239989 253.800016 
L 767.879989 273.600015 
" clip-path="url(#p8312197129)" style="fill: none; stroke: #0000ff; stroke-width: 2; stroke-linecap: square"/>
   </g>
   <g id="line2d_70">
    <path d="M 775.439989 7.200025 
L 779.219989 27.000024 
L 781.919989 41.040023 
L 784.799989 69.120023 
L 785.879989 100.800021 
L 789.119989 144.00002 
L 790.199989 172.800019 
L 791.639989 185.400018 
L 789.479989 216.000017 
L 788.039989 234.720017 
L 786.599989 253.800016 
L 785.159989 273.600015 
" clip-path="url(#p8312197129)" style="fill: none; stroke: #0000ff; stroke-width: 2; stroke-linecap: square"/>
   </g>
   <g id="line2d_71">
    <path d="M 781.919989 41.040023 
L 788.759989 28.440024 
L 789.839989 29.520024 
" clip-path="url(#p8312197129)" style="fill: none; stroke: #0000ff; stroke-width: 2; stroke-linecap: square"/>
   </g>
   <g id="line2d_72">
    <path d="M 782.999989 41.040023 
L 790.199989 30.240024 
" clip-path="url(#p8312197129)" style="fill: none; stroke: #0000ff; stroke-width: 2; stroke-linecap: square"/>
   </g>
   <g id="line2d_73">
    <path d="M 790.199989 29.880024 
L 791.279989 51.120023 
L 791.819989 79.740022 
L 793.259989 52.560023 
L 794.159989 66.240023 
L 796.319989 79.920022 
L 796.139989 109.440021 
L 795.959989 144.00002 
L 795.599989 172.800019 
L 795.779989 192.240018 
L 791.999989 216.000017 
L 790.199989 234.720017 
L 788.039989 253.800016 
L 786.239989 273.600015 
" clip-path="url(#p8312197129)" style="fill: none; stroke: #0000ff; stroke-width: 2; stroke-linecap: square"/>
   </g>
   <g id="line2d_74">
    <path d="M 778.319989 259.200016 
L 780.839989 252.000016 
L 783.359989 259.200016 
" clip-path="url(#p8312197129)" style="fill: none; stroke: #0000ff; stroke-width: 2; stroke-linecap: square"/>
   </g>
   <g id="line2d_75">
    <path d="M 800.99999 7.200025 
L 807.11999 27.000024 
L 824.03999 82.080022 
L 821.51999 136.80002 
L 816.47999 176.400019 
L 810.21599 253.800016 
L 808.55999 273.600015 
" clip-path="url(#p8312197129)" style="fill: none; stroke: #0000ff; stroke-width: 2; stroke-linecap: square"/>
   </g>
   <g id="line2d_76">
    <path d="M 820.79999 273.600015 
L 827.279991 253.440016 
L 830.879991 241.200016 
L 835.199991 219.600017 
L 838.799991 199.440018 
L 840.239991 187.200018 
L 841.679991 176.400019 
L 842.039991 165.600019 
L 841.319991 172.800019 
L 840.599991 180.000019 
L 839.879991 190.800018 
L 840.239991 199.440018 
L 841.679991 208.080018 
L 845.999991 218.880017 
L 851.399991 221.040017 
L 856.439991 214.920017 
L 860.759992 203.760018 
L 863.999992 189.360018 
L 866.159992 177.840019 
L 867.599992 165.600019 
L 869.039992 151.20002 
L 869.399992 136.08002 
L 869.759992 144.00002 
L 871.199992 153.36002 
L 873.359992 159.840019 
L 877.319992 163.800019 
L 881.279992 162.360019 
L 885.239992 153.36002 
L 887.399993 144.00002 
L 888.839993 133.20002 
L 889.559993 122.400021 
L 890.279993 104.760021 
L 890.999993 111.600021 
L 892.799993 117.360021 
L 897.839993 121.320021 
L 901.799993 118.440021 
L 903.599993 112.320021 
L 904.319993 105.120021 
L 903.239993 99.720021 
L 904.175993 102.240021 
L 904.679993 96.840022 
L 905.399993 104.400021 
L 906.839993 108.720021 
L 908.639993 104.400021 
L 910.439993 93.600022 
L 911.159993 82.800022 
L 911.159993 76.320022 
L 911.879993 83.520022 
L 914.039993 87.120022 
L 916.559993 82.800022 
L 918.719994 72.000022 
L 919.799994 57.600023 
L 919.799994 35.640024 
L 920.879994 54.000023 
L 923.399994 65.520023 
L 926.639994 72.720022 
L 931.319994 77.040022 
L 936.359994 74.520022 
L 941.759994 62.640023 
L 945.719994 41.040023 
L 947.519995 27.360024 
L 949.679995 7.200025 
" clip-path="url(#p8312197129)" style="fill: none; stroke: #0000ff; stroke-width: 2; stroke-linecap: square"/>
   </g>
   <g id="line2d_77">
    <defs>
     <path id="mb59d652842" d="M 0 0.375 
C 0.099451 0.375 0.194842 0.335488 0.265165 0.265165 
C 0.335488 0.194842 0.375 0.099451 0.375 0 
C 0.375 -0.099451 0.335488 -0.194842 0.265165 -0.265165 
C 0.194842 -0.335488 0.099451 -0.375 0 -0.375 
C -0.099451 -0.375 -0.194842 -0.335488 -0.265165 -0.265165 
C -0.335488 -0.194842 -0.375 -0.099451 -0.375 0 
C -0.375 0.099451 -0.335488 0.194842 -0.265165 0.265165 
C -0.194842 0.335488 -0.099451 0.375 0 0.375 
z
" style="stroke: #0000ff; stroke-opacity: 0.5"/>
    </defs>
    <g clip-path="url(#p8312197129)"/>
   </g>
   <g id="line2d_78">
    <defs>
     <path id="m3957aeb254" d="M 0 0.375 
C 0.099451 0.375 0.194842 0.335488 0.265165 0.265165 
C 0.335488 0.194842 0.375 0.099451 0.375 0 
C 0.375 -0.099451 0.335488 -0.194842 0.265165 -0.265165 
C 0.194842 -0.335488 0.099451 -0.375 0 -0.375 
C -0.099451 -0.375 -0.194842 -0.335488 -0.265165 -0.265165 
C -0.335488 -0.194842 -0.375 -0.099451 -0.375 0 
C -0.375 0.099451 -0.335488 0.194842 -0.265165 0.265165 
C -0.194842 0.335488 -0.099451 0.375 0 0.375 
z
" style="stroke: #008000; stroke-opacity: 0.5"/>
    </defs>
    <g clip-path="url(#p8312197129)"/>
   </g>
   <g id="line2d_79">
    <defs>
     <path id="m01186fa81b" d="M 0 0.375 
C 0.099451 0.375 0.194842 0.335488 0.265165 0.265165 
C 0.335488 0.194842 0.375 0.099451 0.375 0 
C 0.375 -0.099451 0.335488 -0.194842 0.265165 -0.265165 
C 0.194842 -0.335488 0.099451 -0.375 0 -0.375 
C -0.099451 -0.375 -0.194842 -0.335488 -0.265165 -0.265165 
C -0.335488 -0.194842 -0.375 -0.099451 -0.375 0 
C -0.375 0.099451 -0.335488 0.194842 -0.265165 0.265165 
C -0.194842 0.335488 -0.099451 0.375 0 0.375 
z
" style="stroke: #ffa500; stroke-opacity: 0.7"/>
    </defs>
    <g clip-path="url(#p8312197129)"/>
   </g>
   <g id="line2d_80">
    <path d="M 631.8000 140.7600 L 1133.6400 140.7600" clip-path="url(#p8312197129)" style="fill: none; stroke: #000000; stroke-width: 0.5; stroke-linecap: square"/>
   </g>
   <g id="line2d_81">
    <path d="M 747.0000 253.8000 L 747.0000 27.0000" clip-path="url(#p8312197129)" style="fill: none; stroke: #000000; stroke-width: 0.5; stroke-linecap: square"/>
   </g>
   <g id="patch_12">
    <path d="M 631.8000 253.8000 L 631.8000 27.0000" style="fill: none; stroke: #000000; stroke-width: 0.8; stroke-linejoin: miter; stroke-linecap: square"/>
   </g>
   <g id="patch_13">
    <path d="M 1133.6400 253.8000 L 1133.6400 27.0000" style="fill: none; stroke: #000000; stroke-width: 0.8; stroke-linejoin: miter; stroke-linecap: square"/>
   </g>
   <g id="patch_14">
    <path d="M 631.8000 253.8000 L 1133.6400 253.8000" style="fill: none; stroke: #000000; stroke-width: 0.8; stroke-linejoin: miter; stroke-linecap: square"/>
   </g>
   <g id="patch_15">
    <path d="M 631.8000 27.0000 L 1133.6400 27.0000" style="fill: none; stroke: #000000; stroke-width: 0.8; stroke-linejoin: miter; stroke-linecap: square"/>
   </g>
   <g id="text_35">
    <text style="font-size: 12px; font-family: 'DejaVu Sans', 'Liberation Sans', sans-serif; text-anchor: middle" x="882.48358" y="20.88" transform="rotate(-0 882.48358 20.88)">Charakterystyka R-X zabezpieczenia odleglosciowego</text>
   </g>
   <g id="legend_2">
    <g id="patch_16">
     <path d="M 1044.288411 123.5225 
L 1127.997161 123.5225 
Q 1129.597161 123.5225 1129.597161 121.9225 
L 1129.597161 32.48 
Q 1129.597161 30.88 1127.997161 30.88 
L 1044.288411 30.88 
Q 1042.688411 30.88 1042.688411 32.48 
L 1042.688411 121.9225 
Q 1042.688411 123.5225 1044.288411 123.5225 
z
" style="fill: #ffffff; opacity: 0.8; stroke: #cccccc; stroke-linejoin: miter"/>
    </g>
    <g id="patch_17">
     <path d="M 1046.5200 40.6800 L 1062.3600 40.6800 L 1062.3600 34.9200 L 1046.5200 34.9200 z" style="fill: #008000; fill-opacity: 0.2; stroke: #008000; stroke-opacity: 0.2; stroke-linejoin: miter"/>
    </g>
    <g id="text_36">
     <text style="font-size: 8px; font-family: 'DejaVu Sans', 'Liberation Sans', sans-serif; text-anchor: start" x="1068.288411" y="40.15875" transform="rotate(-0 1068.288411 40.15875)">Strefa 1</text>
    </g>
    <g id="patch_18">
     <path d="M 1046.5200 51.4800 L 1062.3600 51.4800 L 1062.3600 46.4400 L 1046.5200 46.4400 z" style="fill: #ffff00; fill-opacity: 0.2; stroke: #ffff00; stroke-opacity: 0.2; stroke-linejoin: miter"/>
    </g>
    <g id="text_37">
     <text style="font-size: 8px; font-family: 'DejaVu Sans', 'Liberation Sans', sans-serif; text-anchor: start" x="1068.288411" y="51.34125" transform="rotate(-0 1068.288411 51.34125)">Strefa 2</text>
    </g>
    <g id="patch_19">
     <path d="M 1046.5200 63.0000 L 1062.3600 63.0000 L 1062.3600 57.2400 L 1046.5200 57.2400 z" style="fill: #ff0000; fill-opacity: 0.1; stroke: #ff0000; stroke-opacity: 0.1; stroke-linejoin: miter"/>
    </g>
    <g id="text_38">
     <text style="font-size: 8px; font-family: 'DejaVu Sans', 'Liberation Sans', sans-serif; text-anchor: start" x="1068.288411" y="62.52375" transform="rotate(-0 1068.288411 62.52375)">Strefa 3</text>
    </g>
    <g id="line2d_82">
     <path d="M 1046.5200 70.9200 L 1054.4400 70.9200 L 1062.3600 70.9200" style="fill: none; stroke-dasharray: 3.7,1.6; stroke-dashoffset: 0; stroke: #000000"/>
    </g>
    <g id="text_39">
     <text style="font-size: 8px; font-family: 'DejaVu Sans', 'Liberation Sans', sans-serif; text-anchor: start" x="1068.288411" y="73.70625" transform="rotate(-0 1068.288411 73.70625)">Linia Z</text>
    </g>
    <g id="line2d_83">
     <path d="M 1046.5200 82.4400 L 1054.4400 82.4400 L 1062.3600 82.4400" style="fill: none; stroke: #0000ff; stroke-width: 2; stroke-linecap: square"/>
    </g>
    <g id="text_40">
     <text style="font-size: 8px; font-family: 'DejaVu Sans', 'Liberation Sans', sans-serif; text-anchor: start" x="1068.288411" y="84.88875" transform="rotate(-0 1068.288411 84.88875)">Z_L1 (zwarcie)</text>
    </g>
    <g id="line2d_84">
     <g>
      <use href="#mb59d652842" x="1054.4400" y="93.9600" style="fill: #0000ff; fill-opacity: 0.5; stroke: #0000ff; stroke-opacity: 0.5"/>
     </g>
    </g>
    <g id="text_41">
     <text style="font-size: 8px; font-family: 'DejaVu Sans', 'Liberation Sans', sans-serif; text-anchor: start" x="1068.288411" y="96.29375" transform="rotate(-0 1068.288411 96.29375)">Trajektoria L1</text>
    </g>
    <g id="line2d_85">
     <g>
      <use href="#m3957aeb254" x="1054.4400" y="104.7600" style="fill: #008000; fill-opacity: 0.5; stroke: #008000; stroke-opacity: 0.5"/>
     </g>
    </g>
    <g id="text_42">
     <text style="font-size: 8px; font-family: 'DejaVu Sans', 'Liberation Sans', sans-serif; text-anchor: start" x="1068.288411" y="107.47625" transform="rotate(-0 1068.288411 107.47625)">Trajektoria L2</text>
    </g>
    <g id="line2d_86">
     <g>
      <use href="#m01186fa81b" x="1054.4400" y="116.2800" style="fill: #ffa500; fill-opacity: 0.7; stroke: #ffa500; stroke-opacity: 0.7"/>
     </g>
    </g>
    <g id="text_43">
     <text style="font-size: 8px; font-family: 'DejaVu Sans', 'Liberation Sans', sans-serif; text-anchor: start" x="1068.288411" y="118.65875" transform="rotate(-0 1068.288411 118.65875)">Trajektoria L3</text>
    </g>
   </g>
  </g>
  <g id="axes_3">
   <g id="patch_20">
    <path d="M 56.1600 537.8400 L 558.0000 537.8400 L 558.0000 311.0400 L 56.1600 311.0400 z" style="fill: #ffffff"/>
   </g>
   <g id="matplotlib.axis_5">
    <g id="xtick_15">
     <g id="line2d_87">
      <path d="M 141.4800 538.2000 L 141.4800 311.4000" clip-path="url(#p8eb5962b93)" style="fill: none; stroke: #b0b0b0; stroke-width: 0.8; stroke-linecap: square"/>
     </g>
     <g id="line2d_88">
      <g>
       <use href="#me4258ba3a0" x="141.4800" y="538.2000" style="stroke: #000000; stroke-width: 0.8"/>
      </g>
     </g>
     <g id="text_44">
      <text style="font-size: 10px; font-family: 'DejaVu Sans', 'Liberation Sans', sans-serif; text-anchor: middle" x="140.896355" y="552.238438" transform="rotate(-0 140.896355 552.238438)">0.05</text>
     </g>
    </g>
    <g id="xtick_16">
     <g id="line2d_89">
      <path d="M 244.4400 538.2000 L 244.4400 311.4000" clip-path="url(#p8eb5962b93)" style="fill: none; stroke: #b0b0b0; stroke-width: 0.8; stroke-linecap: square"/>
     </g>
     <g id="line2d_90">
      <g>
       <use href="#me4258ba3a0" x="244.4400" y="538.2000" style="stroke: #000000; stroke-width: 0.8"/>
      </g>
     </g>
     <g id="text_45">
      <text style="font-size: 10px; font-family: 'DejaVu Sans', 'Liberation Sans', sans-serif; text-anchor: middle" x="244.192768" y="552.238438" transform="rotate(-0 244.192768 552.238438)">0.10</text>
     </g>
    </g>
    <g id="xtick_17">
     <g id="line2d_91">
      <path d="M 348.1200 538.2000 L 348.1200 311.4000" clip-path="url(#p8eb5962b93)" style="fill: none; stroke: #b0b0b0; stroke-width: 0.8; stroke-linecap: square"/>
     </g>
     <g id="line2d_92">
      <g>
       <use href="#me4258ba3a0" x="348.1200" y="538.2000" style="stroke: #000000; stroke-width: 0.8"/>
      </g>
     </g>
     <g id="text_46">
      <text style="font-size: 10px; font-family: 'DejaVu Sans', 'Liberation Sans', sans-serif; text-anchor: middle" x="347.489181" y="552.238438" transform="rotate(-0 347.489181 552.238438)">0.15</text>
     </g>
    </g>
    <g id="xtick_18">
     <g id="line2d_93">
      <path d="M 451.0800 538.2000 L 451.0800 311.4000" clip-path="url(#p8eb5962b93)" style="fill: none; stroke: #b0b0b0; stroke-width: 0.8; stroke-linecap: square"/>
     </g>
     <g id="line2d_94">
      <g>
       <use href="#me4258ba3a0" x="451.0800" y="538.2000" style="stroke: #000000; stroke-width: 0.8"/>
      </g>
     </g>
     <g id="text_47">
      <text style="font-size: 10px; font-family: 'DejaVu Sans', 'Liberation Sans', sans-serif; text-anchor: middle" x="450.785595" y="552.238438" transform="rotate(-0 450.785595 552.238438)">0.20</text>
     </g>
    </g>
    <g id="xtick_19">
     <g id="line2d_95">
      <path d="M 554.7600 538.2000 L 554.7600 311.4000" clip-path="url(#p8eb5962b93)" style="fill: none; stroke: #b0b0b0; stroke-width: 0.8; stroke-linecap: square"/>
     </g>
     <g id="line2d_96">
      <g>
       <use href="#me4258ba3a0" x="554.7600" y="538.2000" style="stroke: #000000; stroke-width: 0.8"/>
      </g>
     </g>
     <g id="text_48">
      <text style="font-size: 10px; font-family: 'DejaVu Sans', 'Liberation Sans', sans-serif; text-anchor: middle" x="554.082008" y="552.238438" transform="rotate(-0 554.082008 552.238438)">0.25</text>
     </g>
    </g>
    <g id="text_49">
     <text style="font-size: 10px; font-family: 'DejaVu Sans', 'Liberation Sans', sans-serif; text-anchor: middle" x="307.20358" y="565.916563" transform="rotate(-0 307.20358 565.916563)">Czas [s]</text>
    </g>
   </g>
   <g id="matplotlib.axis_6">
    <g id="ytick_13">
     <g id="line2d_97">
      <path d="M 56.5200 515.8800 L 558.3600 515.8800" clip-path="url(#p8eb5962b93)" style="fill: none; stroke: #b0b0b0; stroke-width: 0.8; stroke-linecap: square"/>
     </g>
     <g id="line2d_98">
      <g>
       <use href="#m37318fec9a" x="56.5200" y="515.8800" style="stroke: #000000; stroke-width: 0.8"/>
      </g>
     </g>
     <g id="text_50">
      <text style="font-size: 10px; font-family: 'DejaVu Sans', 'Liberation Sans', sans-serif; text-anchor: end" x="49.09" y="519.647172" transform="rotate(-0 49.09 519.647172)">−75</text>
     </g>
    </g>
    <g id="ytick_14">
     <g id="line2d_99">
      <path d="M 56.5200 485.6400 L 558.3600 485.6400" clip-path="url(#p8eb5962b93)" style="fill: none; stroke: #b0b0b0; stroke-width: 0.8; stroke-linecap: square"/>
     </g>
     <g id="line2d_100">
      <g>
       <use href="#m37318fec9a" x="56.5200" y="485.6400" style="stroke: #000000; stroke-width: 0.8"/>
      </g>
     </g>
     <g id="text_51">
      <text style="font-size: 10px; font-family: 'DejaVu Sans', 'Liberation Sans', sans-serif; text-anchor: end" x="49.09" y="489.376237" transform="rotate(-0 49.09 489.376237)">−50</text>
     </g>
    </g>
    <g id="ytick_15">
     <g id="line2d_101">
      <path d="M 56.5200 455.4000 L 558.3600 455.4000" clip-path="url(#p8eb5962b93)" style="fill: none; stroke: #b0b0b0; stroke-width: 0.8; stroke-linecap: square"/>
     </g>
     <g id="line2d_102">
      <g>
       <use href="#m37318fec9a" x="56.5200" y="455.4000" style="stroke: #000000; stroke-width: 0.8"/>
      </g>
     </g>
     <g id="text_52">
      <text style="font-size: 10px; font-family: 'DejaVu Sans', 'Liberation Sans', sans-serif; text-anchor: end" x="49.09" y="459.105302" transform="rotate(-0 49.09 459.105302)">−25</text>
     </g>
    </g>
    <g id="ytick_16">
     <g id="line2d_103">
      <path d="M 56.5200 425.1600 L 558.3600 425.1600" clip-path="url(#p8eb5962b93)" style="fill: none; stroke: #b0b0b0; stroke-width: 0.8; stroke-linecap: square"/>
     </g>
     <g id="line2d_104">
      <g>
       <use href="#m37318fec9a" x="56.5200" y="425.1600" style="stroke: #000000; stroke-width: 0.8"/>
      </g>
     </g>
     <g id="text_53">
      <text style="font-size: 10px; font-family: 'DejaVu Sans', 'Liberation Sans', sans-serif; text-anchor: end" x="49.09" y="428.834367" transform="rotate(-0 49.09 428.834367)">0</text>
     </g>
    </g>
    <g id="ytick_17">
     <g id="line2d_105">
      <path d="M 56.5200 394.9200 L 558.3600 394.9200" clip-path="url(#p8eb5962b93)" style="fill: none; stroke: #b0b0b0; stroke-width: 0.8; stroke-linecap: square"/>
     </g>
     <g id="line2d_106">
      <g>
       <use href="#m37318fec9a" x="56.5200" y="394.9200" style="stroke: #000000; stroke-width: 0.8"/>
      </g>
     </g>
     <g id="text_54">
      <text style="font-size: 10px; font-family: 'DejaVu Sans', 'Liberation Sans', sans-serif; text-anchor: end" x="49.09" y="398.563431" transform="rotate(-0 49.09 398.563431)">25</text>
     </g>
    </g>
    <g id="ytick_18">
     <g id="line2d_107">
      <path d="M 56.5200 364.6800 L 558.3600 364.6800" clip-path="url(#p8eb5962b93)" style="fill: none; stroke: #b0b0b0; stroke-width: 0.8; stroke-linecap: square"/>
     </g>
     <g id="line2d_108">
      <g>
       <use href="#m37318fec9a" x="56.5200" y="364.6800" style="stroke: #000000; stroke-width: 0.8"/>
      </g>
     </g>
     <g id="text_55">
      <text style="font-size: 10px; font-family: 'DejaVu Sans', 'Liberation Sans', sans-serif; text-anchor: end" x="49.09" y="368.292496" transform="rotate(-0 49.09 368.292496)">50</text>
     </g>
    </g>
    <g id="ytick_19">
     <g id="line2d_109">
      <path d="M 56.5200 334.4400 L 558.3600 334.4400" clip-path="url(#p8eb5962b93)" style="fill: none; stroke: #b0b0b0; stroke-width: 0.8; stroke-linecap: square"/>
     </g>
     <g id="line2d_110">
      <g>
       <use href="#m37318fec9a" x="56.5200" y="334.4400" style="stroke: #000000; stroke-width: 0.8"/>
      </g>
     </g>
     <g id="text_56">
      <text style="font-size: 10px; font-family: 'DejaVu Sans', 'Liberation Sans', sans-serif; text-anchor: end" x="49.09" y="338.021561" transform="rotate(-0 49.09 338.021561)">75</text>
     </g>
    </g>
    <g id="text_57">
     <text style="font-size: 10px; font-family: 'DejaVu Sans', 'Liberation Sans', sans-serif; text-anchor: middle" x="21.905625" y="424.46" transform="rotate(-90 21.905625 424.46)">Napięcie [V]</text>
    </g>
   </g>
   <g id="line2d_111">
    <path d="M 78.918507 424.590293 
L 87.18222 425.393856 
L 91.314077 425.519124 
L 95.445933 425.36703 
L 97.511862 425.201335 
L 101.643718 424.319744 
L 105.775575 423.404417 
L 107.841503 423.067289 
L 109.907431 422.8576 
L 111.97336 422.795875 
L 114.039288 422.888157 
L 116.105216 423.125413 
L 120.237073 423.93003 
L 126.434857 425.333957 
L 128.500786 425.671085 
L 130.566714 425.880775 
L 132.632642 425.942499 
L 134.69857 425.850217 
L 136.764499 425.612961 
L 140.896355 424.808344 
L 147.09414 423.404417 
L 149.160068 423.067289 
L 151.225997 422.8576 
L 153.291925 422.795875 
L 155.357853 422.888157 
L 157.423781 423.125413 
L 161.555638 423.93003 
L 167.753423 425.333957 
L 169.819351 425.671085 
L 171.885279 425.880775 
L 173.951207 425.942499 
L 176.017136 425.850217 
L 178.083064 425.612961 
L 182.21492 424.808344 
L 188.412705 423.404417 
L 190.478634 423.067289 
L 192.544562 422.8576 
L 194.61049 422.795875 
L 196.676418 422.888157 
L 198.742347 423.125413 
L 202.874203 423.93003 
L 209.071988 425.333957 
L 211.137916 425.671085 
L 213.203844 425.880775 
L 215.269773 425.942499 
L 217.335701 425.850217 
L 219.401629 425.612961 
L 223.533486 424.808344 
L 229.731271 423.404417 
L 231.797199 423.067289 
L 233.863127 422.8576 
L 235.929055 422.795875 
L 237.994984 422.888157 
L 240.060912 423.125413 
L 244.192768 423.93003 
L 250.390553 425.333957 
L 252.456481 425.671085 
L 256.588338 426.124901 
L 260.720194 425.398399 
L 264.852051 424.308645 
L 266.917979 424.066478 
L 268.983907 424.187562 
L 535.488653 424.429729 
L 535.488653 424.429729 
" clip-path="url(#p8eb5962b93)" style="fill: none; stroke: #0000ff; stroke-width: 1.5; stroke-linecap: square"/>
   </g>
   <g id="line2d_112">
    <path d="M 78.918507 443.076625 
L 80.984436 477.101156 
L 83.050364 497.92756 
L 85.116292 510.762437 
L 87.18222 517.906377 
L 89.248149 516.574456 
L 91.314077 511.118116 
L 93.380005 496.853197 
L 95.445933 475.558228 
L 97.511862 449.317707 
L 101.643718 392.507105 
L 103.709646 367.498041 
L 105.775575 348.121109 
L 107.841503 336.27306 
L 109.907431 333.113662 
L 111.97336 338.95218 
L 114.039288 353.217098 
L 116.105216 374.512068 
L 118.171144 400.752588 
L 122.303001 457.563191 
L 124.368929 482.572255 
L 126.434857 501.949186 
L 128.500786 513.797236 
L 130.566714 516.956633 
L 132.632642 511.118116 
L 134.69857 496.853197 
L 136.764499 475.558228 
L 138.830427 449.317707 
L 142.962283 392.507105 
L 145.028212 367.498041 
L 147.09414 348.121109 
L 149.160068 336.27306 
L 151.225997 333.113662 
L 153.291925 338.95218 
L 155.357853 353.217098 
L 157.423781 374.512068 
L 159.48971 400.752588 
L 163.621566 457.563191 
L 165.687494 482.572255 
L 167.753423 501.949186 
L 169.819351 513.797236 
L 171.885279 516.956633 
L 173.951207 511.118116 
L 176.017136 496.853197 
L 178.083064 475.558228 
L 180.148992 449.317707 
L 184.280849 392.507105 
L 186.346777 367.498041 
L 188.412705 348.121109 
L 190.478634 336.27306 
L 192.544562 333.113662 
L 194.61049 338.95218 
L 196.676418 353.217098 
L 198.742347 374.512068 
L 200.808275 400.752588 
L 204.940131 457.563191 
L 207.00606 482.572255 
L 209.071988 501.949186 
L 211.137916 513.797236 
L 213.203844 516.956633 
L 215.269773 511.118116 
L 217.335701 496.853197 
L 219.401629 475.558228 
L 221.467557 449.317707 
L 225.599414 392.507105 
L 227.665342 367.498041 
L 229.731271 348.121109 
L 231.797199 336.27306 
L 233.863127 333.113662 
L 235.929055 338.95218 
L 237.994984 353.217098 
L 240.060912 374.512068 
L 242.12684 400.752588 
L 246.258697 457.563191 
L 248.324625 482.572255 
L 250.390553 501.949186 
L 252.456481 513.797236 
L 254.52241 514.031698 
L 256.588338 510.399185 
L 258.654266 499.8649 
L 260.720194 482.307757 
L 262.786123 458.091009 
L 264.852051 431.694754 
L 266.917979 423.097808 
L 268.983907 422.85564 
L 378.478105 422.964616 
L 535.488653 423.582143 
L 535.488653 423.582143 
" clip-path="url(#p8eb5962b93)" style="fill: none; stroke: #008000; stroke-width: 1.5; stroke-linecap: square"/>
   </g>
   <g id="line2d_113">
    <path d="M 78.918507 326.230815 
L 80.984436 321.569091 
L 83.050364 327.077413 
L 85.116292 341.657591 
L 87.18222 364.366751 
L 89.248149 392.981962 
L 93.380005 456.422373 
L 95.445933 485.037584 
L 97.511862 507.746744 
L 99.57779 522.326922 
L 101.643718 527.350909 
L 103.709646 522.326922 
L 105.775575 507.746744 
L 107.841503 485.037584 
L 109.907431 456.422373 
L 114.039288 392.981962 
L 116.105216 364.366751 
L 118.171144 341.657591 
L 120.237073 327.077413 
L 122.303001 322.053426 
L 124.368929 327.077413 
L 126.434857 341.657591 
L 128.500786 364.366751 
L 130.566714 392.981962 
L 134.69857 456.422373 
L 136.764499 485.037584 
L 138.830427 507.746744 
L 140.896355 522.326922 
L 142.962283 527.350909 
L 145.028212 522.326922 
L 147.09414 507.746744 
L 149.160068 485.037584 
L 151.225997 456.422373 
L 155.357853 392.981962 
L 157.423781 364.366751 
L 159.48971 341.657591 
L 161.555638 327.077413 
L 163.621566 322.053426 
L 165.687494 327.077413 
L 167.753423 341.657591 
L 169.819351 364.366751 
L 171.885279 392.981962 
L 176.017136 456.422373 
L 178.083064 485.037584 
L 180.148992 507.746744 
L 182.21492 522.326922 
L 184.280849 527.350909 
L 186.346777 522.326922 
L 188.412705 507.746744 
L 190.478634 485.037584 
L 192.544562 456.422373 
L 196.676418 392.981962 
L 198.742347 364.366751 
L 200.808275 341.657591 
L 202.874203 327.077413 
L 204.940131 322.053426 
L 207.00606 327.077413 
L 209.071988 341.657591 
L 211.137916 364.366751 
L 213.203844 392.981962 
L 217.335701 456.422373 
L 219.401629 485.037584 
L 221.467557 507.746744 
L 223.533486 522.326922 
L 225.599414 527.350909 
L 227.665342 522.326922 
L 229.731271 507.746744 
L 231.797199 485.037584 
L 233.863127 456.422373 
L 237.994984 392.981962 
L 240.060912 364.366751 
L 242.12684 341.657591 
L 244.192768 327.077413 
L 246.258697 322.053426 
L 248.324625 327.077413 
L 250.390553 341.657591 
L 252.456481 364.366751 
L 254.52241 392.981962 
L 258.654266 456.51692 
L 260.720194 484.366181 
L 262.786123 503.134161 
L 264.852051 513.063028 
L 266.917979 515.484702 
L 268.983907 515.000367 
L 271.049836 514.394949 
L 273.115764 513.668446 
L 277.247621 511.973274 
L 279.313549 510.762437 
L 281.379477 508.825097 
L 283.445405 505.555836 
L 285.511334 499.8649 
L 287.577262 492.236624 
L 289.64319 481.944506 
L 291.709118 468.625295 
L 293.775047 452.521157 
L 295.840975 435.327266 
L 297.906903 425.640566 
L 299.972831 421.160468 
L 302.03876 419.223128 
L 304.104688 418.254458 
L 306.170616 417.770123 
L 310.302473 417.285788 
L 320.632114 416.664994 
L 328.895827 416.32585 
L 345.423253 415.879354 
L 372.280321 415.353319 
L 382.609962 415.439526 
L 397.07146 415.869034 
L 417.730742 416.679705 
L 434.258169 417.35395 
L 448.719666 417.759958 
L 465.247092 417.770123 
L 469.378949 417.520071 
L 475.576734 416.922537 
L 485.906375 416.493152 
L 492.10416 416.453833 
L 500.367873 416.736021 
L 512.763443 417.216482 
L 533.422725 417.624393 
L 535.488653 417.64904 
L 535.488653 417.64904 
" clip-path="url(#p8eb5962b93)" style="fill: none; stroke: #ffa500; stroke-width: 1.5; stroke-linecap: square"/>
   </g>
   <g id="patch_21">
    <path d="M 56.5200 538.2000 L 56.5200 311.4000" style="fill: none; stroke: #000000; stroke-width: 0.8; stroke-linejoin: miter; stroke-linecap: square"/>
   </g>
   <g id="patch_22">
    <path d="M 558.3600 538.2000 L 558.3600 311.4000" style="fill: none; stroke: #000000; stroke-width: 0.8; stroke-linejoin: miter; stroke-linecap: square"/>
   </g>
   <g id="patch_23">
    <path d="M 56.5200 538.2000 L 558.3600 538.2000" style="fill: none; stroke: #000000; stroke-width: 0.8; stroke-linejoin: miter; stroke-linecap: square"/>
   </g>
   <g id="patch_24">
    <path d="M 56.5200 311.4000 L 558.3600 311.4000" style="fill: none; stroke: #000000; stroke-width: 0.8; stroke-linejoin: miter; stroke-linecap: square"/>
   </g>
   <g id="text_58">
    <text style="font-size: 12px; font-family: 'DejaVu Sans', 'Liberation Sans', sans-serif; text-anchor: middle" x="307.20358" y="305.28" transform="rotate(-0 307.20358 305.28)">Napięcia faz L1, L2, L3</text>
   </g>
   <g id="legend_3">
    <g id="patch_25">
     <path d="M 495.064036 364.14875 
L 551.317161 364.14875 
Q 553.317161 364.14875 553.317161 362.14875 
L 553.317161 318.28 
Q 553.317161 316.28 551.317161 316.28 
L 495.064036 316.28 
Q 493.064036 316.28 493.064036 318.28 
L 493.064036 362.14875 
Q 493.064036 364.14875 495.064036 364.14875 
z
" style="fill: #ffffff; opacity: 0.8; stroke: #cccccc; stroke-linejoin: miter"/>
    </g>
    <g id="line2d_114">
     <path d="M 496.8000 324.7200 L 506.8800 324.7200 L 516.9600 324.7200" style="fill: none; stroke: #0000ff; stroke-width: 1.5; stroke-linecap: square"/>
    </g>
    <g id="text_59">
     <text style="font-size: 10px; font-family: 'DejaVu Sans', 'Liberation Sans', sans-serif; text-anchor: start" x="525.064036" y="327.878438" transform="rotate(-0 525.064036 327.878438)">U_L1</text>
    </g>
    <g id="line2d_115">
     <path d="M 496.8000 339.1200 L 506.8800 339.1200 L 516.9600 339.1200" style="fill: none; stroke: #008000; stroke-width: 1.5; stroke-linecap: square"/>
    </g>
    <g id="text_60">
     <text style="font-size: 10px; font-family: 'DejaVu Sans', 'Liberation Sans', sans-serif; text-anchor: start" x="525.064036" y="342.834687" transform="rotate(-0 525.064036 342.834687)">U_L2</text>
    </g>
    <g id="line2d_116">
     <path d="M 496.8000 354.2400 L 506.8800 354.2400 L 516.9600 354.2400" style="fill: none; stroke: #ffa500; stroke-width: 1.5; stroke-linecap: square"/>
    </g>
    <g id="text_61">
     <text style="font-size: 10px; font-family: 'DejaVu Sans', 'Liberation Sans', sans-serif; text-anchor: start" x="525.064036" y="357.790938" transform="rotate(-0 525.064036 357.790938)">U_L3</text>
    </g>
   </g>
  </g>
  <g id="axes_4">
   <g id="patch_26">
    <path d="M 631.4400 537.8400 L 1133.2800 537.8400 L 1133.2800 311.0400 L 631.4400 311.0400 z" style="fill: #ffffff"/>
   </g>
   <g id="matplotlib.axis_7">
    <g id="xtick_20">
     <g id="line2d_117">
      <path d="M 716.7600 538.2000 L 716.7600 311.4000" clip-path="url(#pf9d5635f9f)" style="fill: none; stroke: #b0b0b0; stroke-width: 0.8; stroke-linecap: square"/>
     </g>
     <g id="line2d_118">
      <g>
       <use href="#me4258ba3a0" x="716.7600" y="538.2000" style="stroke: #000000; stroke-width: 0.8"/>
      </g>
     </g>
     <g id="text_62">
      <text style="font-size: 10px; font-family: 'DejaVu Sans', 'Liberation Sans', sans-serif; text-anchor: middle" x="716.176355" y="552.238438" transform="rotate(-0 716.176355 552.238438)">0.05</text>
     </g>
    </g>
    <g id="xtick_21">
     <g id="line2d_119">
      <path d="M 819.7200 538.2000 L 819.7200 311.4000" clip-path="url(#pf9d5635f9f)" style="fill: none; stroke: #b0b0b0; stroke-width: 0.8; stroke-linecap: square"/>
     </g>
     <g id="line2d_120">
      <g>
       <use href="#me4258ba3a0" x="819.7200" y="538.2000" style="stroke: #000000; stroke-width: 0.8"/>
      </g>
     </g>
     <g id="text_63">
      <text style="font-size: 10px; font-family: 'DejaVu Sans', 'Liberation Sans', sans-serif; text-anchor: middle" x="819.472768" y="552.238438" transform="rotate(-0 819.472768 552.238438)">0.10</text>
     </g>
    </g>
    <g id="xtick_22">
     <g id="line2d_121">
      <path d="M 923.4000 538.2000 L 923.4000 311.4000" clip-path="url(#pf9d5635f9f)" style="fill: none; stroke: #b0b0b0; stroke-width: 0.8; stroke-linecap: square"/>
     </g>
     <g id="line2d_122">
      <g>
       <use href="#me4258ba3a0" x="923.4000" y="538.2000" style="stroke: #000000; stroke-width: 0.8"/>
      </g>
     </g>
     <g id="text_64">
      <text style="font-size: 10px; font-family: 'DejaVu Sans', 'Liberation Sans', sans-serif; text-anchor: middle" x="922.769181" y="552.238438" transform="rotate(-0 922.769181 552.238438)">0.15</text>
     </g>
    </g>
    <g id="xtick_23">
     <g id="line2d_123">
      <path d="M 1026.3600 538.2000 L 1026.3600 311.4000" clip-path="url(#pf9d5635f9f)" style="fill: none; stroke: #b0b0b0; stroke-width: 0.8; stroke-linecap: square"/>
     </g>
     <g id="line2d_124">
      <g>
       <use href="#me4258ba3a0" x="1026.3600" y="538.2000" style="stroke: #000000; stroke-width: 0.8"/>
      </g>
     </g>
     <g id="text_65">
      <text style="font-size: 10px; font-family: 'DejaVu Sans', 'Liberation Sans', sans-serif; text-anchor: middle" x="1026.065595" y="552.238438" transform="rotate(-0 1026.065595 552.238438)">0.20</text>
     </g>
    </g>
    <g id="xtick_24">
     <g id="line2d_125">
      <path d="M 1130.0400 538.2000 L 1130.0400 311.4000" clip-path="url(#pf9d5635f9f)" style="fill: none; stroke: #b0b0b0; stroke-width: 0.8; stroke-linecap: square"/>
     </g>
     <g id="line2d_126">
      <g>
       <use href="#me4258ba3a0" x="1130.0400" y="538.2000" style="stroke: #000000; stroke-width: 0.8"/>
      </g>
     </g>
     <g id="text_66">
      <text style="font-size: 10px; font-family: 'DejaVu Sans', 'Liberation Sans', sans-serif; text-anchor: middle" x="1129.362008" y="552.238438" transform="rotate(-0 1129.362008 552.238438)">0.25</text>
     </g>
    </g>
    <g id="text_67">
     <text style="font-size: 10px; font-family: 'DejaVu Sans', 'Liberation Sans', sans-serif; text-anchor: middle" x="882.48358" y="565.916563" transform="rotate(-0 882.48358 565.916563)">Czas [s]</text>
    </g>
   </g>
   <g id="matplotlib.axis_8">
    <g id="ytick_20">
     <g id="line2d_127">
      <path d="M 631.8000 495.0000 L 1133.6400 495.0000" clip-path="url(#pf9d5635f9f)" style="fill: none; stroke: #b0b0b0; stroke-width: 0.8; stroke-linecap: square"/>
     </g>
     <g id="line2d_128">
      <g>
       <use href="#m37318fec9a" x="631.8000" y="495.0000" style="stroke: #000000; stroke-width: 0.8"/>
      </g>
     </g>
     <g id="text_68">
      <text style="font-size: 10px; font-family: 'DejaVu Sans', 'Liberation Sans', sans-serif; text-anchor: end" x="624.37" y="498.653047" transform="rotate(-0 624.37 498.653047)">−2000</text>
     </g>
    </g>
    <g id="ytick_21">
     <g id="line2d_129">
      <path d="M 631.8000 445.3200 L 1133.6400 445.3200" clip-path="url(#pf9d5635f9f)" style="fill: none; stroke: #b0b0b0; stroke-width: 0.8; stroke-linecap: square"/>
     </g>
     <g id="line2d_130">
      <g>
       <use href="#m37318fec9a" x="631.8000" y="445.3200" style="stroke: #000000; stroke-width: 0.8"/>
      </g>
     </g>
     <g id="text_69">
      <text style="font-size: 10px; font-family: 'DejaVu Sans', 'Liberation Sans', sans-serif; text-anchor: end" x="624.37" y="449.114815" transform="rotate(-0 624.37 449.114815)">0</text>
     </g>
    </g>
    <g id="ytick_22">
     <g id="line2d_131">
      <path d="M 631.8000 396.3600 L 1133.6400 396.3600" clip-path="url(#pf9d5635f9f)" style="fill: none; stroke: #b0b0b0; stroke-width: 0.8; stroke-linecap: square"/>
     </g>
     <g id="line2d_132">
      <g>
       <use href="#m37318fec9a" x="631.8000" y="396.3600" style="stroke: #000000; stroke-width: 0.8"/>
      </g>
     </g>
     <g id="text_70">
      <text style="font-size: 10px; font-family: 'DejaVu Sans', 'Liberation Sans', sans-serif; text-anchor: end" x="624.37" y="399.576582" transform="rotate(-0 624.37 399.576582)">2000</text>
     </g>
    </g>
    <g id="ytick_23">
     <g id="line2d_133">
      <path d="M 631.8000 346.6800 L 1133.6400 346.6800" clip-path="url(#pf9d5635f9f)" style="fill: none; stroke: #b0b0b0; stroke-width: 0.8; stroke-linecap: square"/>
     </g>
     <g id="line2d_134">
      <g>
       <use href="#m37318fec9a" x="631.8000" y="346.6800" style="stroke: #000000; stroke-width: 0.8"/>
      </g>
     </g>
     <g id="text_71">
      <text style="font-size: 10px; font-family: 'DejaVu Sans', 'Liberation Sans', sans-serif; text-anchor: end" x="624.37" y="350.038349" transform="rotate(-0 624.37 350.038349)">4000</text>
     </g>
    </g>
    <g id="text_72">
     <text style="font-size: 10px; font-family: 'DejaVu Sans', 'Liberation Sans', sans-serif; text-anchor: middle" x="584.460625" y="424.46" transform="rotate(-90 584.460625 424.46)">Impedancja [Ohm]</text>
    </g>
   </g>
   <g id="line2d_135">
    <path d="M 654.198507 445.298649 
L 881.450616 445.302775 
L 1108.702725 445.29874 
L 1110.768653 445.299779 
L 1110.768653 445.299779 
" clip-path="url(#pf9d5635f9f)" style="fill: none; stroke: #0000ff; stroke-width: 1.5; stroke-linecap: square"/>
   </g>
   <g id="line2d_136">
    <path d="M 654.198507 445.313071 
L 1028.131523 445.313621 
L 1110.768653 445.312406 
L 1110.768653 445.312406 
" clip-path="url(#pf9d5635f9f)" style="fill: none; stroke-dasharray: 5.55,2.4; stroke-dashoffset: 0; stroke: #0000ff; stroke-width: 1.5"/>
   </g>
   <g id="line2d_137">
    <path d="M 654.198507 438.677473 
L 660.396292 438.999471 
L 672.791862 438.627935 
L 678.989646 438.925164 
L 689.319288 438.770357 
L 709.97857 438.84776 
L 784.351988 438.850857 
L 813.274984 438.912779 
L 815.340912 438.999471 
L 819.472768 438.380243 
L 821.538697 437.141788 
L 823.604625 435.606102 
L 825.670553 434.664876 
L 827.736481 434.045648 
L 829.80241 433.971341 
L 831.868338 434.417185 
L 833.934266 434.615338 
L 836.000194 433.921802 
L 838.066123 431.940273 
L 840.132051 428.967979 
L 842.197979 424.757229 
L 844.263907 419.382331 
L 846.329836 412.620362 
L 848.395764 404.694245 
L 850.461692 395.083828 
L 852.527621 388.792473 
L 854.593549 393.300452 
L 856.659477 401.226569 
L 858.725405 405.189628 
L 860.791334 406.79962 
L 862.857262 408.161921 
L 864.92319 409.152686 
L 866.989118 410.638833 
L 869.055047 413.611127 
L 871.120975 419.308024 
L 873.186903 424.509538 
L 875.252831 433.42642 
L 877.31876 444.07714 
L 879.384688 445.439442 
L 881.450616 445.315596 
L 947.560321 445.233032 
L 955.824034 445.067905 
L 964.087747 445.810978 
L 974.417388 448.349813 
L 976.483316 448.907118 
L 978.549245 447.297125 
L 980.615173 446.306361 
L 984.747029 445.563287 
L 995.076671 445.315596 
L 1017.801882 446.0339 
L 1036.395236 445.810978 
L 1046.724877 446.306361 
L 1061.186375 445.513749 
L 1067.38416 445.067905 
L 1077.713801 445.315596 
L 1083.911586 446.306361 
L 1088.043443 447.297125 
L 1092.175299 449.030963 
L 1094.241227 450.343727 
L 1096.307156 450.021728 
L 1100.439012 448.907118 
L 1104.570869 446.801743 
L 1106.636797 442.838684 
L 1108.702725 441.00577 
L 1110.768653 437.06748 
L 1110.768653 437.06748 
" clip-path="url(#pf9d5635f9f)" style="fill: none; stroke: #008000; stroke-width: 1.5; stroke-linecap: square"/>
   </g>
   <g id="line2d_138">
    <path d="M 654.198507 454.678322 
L 699.648929 452.783484 
L 716.176355 452.523409 
L 807.077199 452.597716 
L 811.209055 452.746331 
L 815.340912 453.117868 
L 821.538697 454.27376 
L 823.604625 454.975551 
L 825.670553 455.966316 
L 829.80241 458.443228 
L 831.868338 459.433992 
L 833.934266 459.729316 
L 836.000194 459.310147 
L 840.132051 458.100271 
L 844.263907 456.709389 
L 848.395764 455.817701 
L 850.461692 458.046922 
L 852.527621 461.638444 
L 854.593549 459.929375 
L 858.725405 445.48898 
L 860.791334 440.361773 
L 866.989118 434.417185 
L 869.055047 431.444891 
L 871.120975 427.977215 
L 873.186903 425.500303 
L 875.252831 425.500303 
L 879.384688 440.114081 
L 881.450616 444.07714 
L 883.516544 445.315596 
L 943.428464 445.315596 
L 947.560321 444.820214 
L 953.758105 444.448677 
L 959.95589 445.067905 
L 970.285532 445.269154 
L 986.812958 444.981213 
L 1007.47224 445.290827 
L 1048.790806 444.696368 
L 1057.054519 444.262908 
L 1063.252303 444.07714 
L 1073.581945 444.902777 
L 1083.911586 445.315596 
L 1094.241227 444.820214 
L 1098.373084 443.160683 
L 1100.439012 442.838684 
L 1102.50494 441.352537 
L 1104.570869 433.822726 
L 1106.636797 426.98645 
L 1108.702725 429.21567 
L 1110.768653 432.931038 
L 1110.768653 432.931038 
" clip-path="url(#pf9d5635f9f)" style="fill: none; stroke-dasharray: 5.55,2.4; stroke-dashoffset: 0; stroke: #008000; stroke-width: 1.5"/>
   </g>
   <g id="line2d_139">
    <path d="M 654.198507 439.271932 
L 670.725933 440.114081 
L 678.989646 440.510387 
L 701.714857 441.225596 
L 718.242283 441.439229 
L 790.549773 441.476383 
L 809.143127 441.402076 
L 811.209055 441.154384 
L 817.40684 439.494854 
L 819.472768 439.197624 
L 823.604625 439.197624 
L 827.736481 437.389479 
L 829.80241 436.027177 
L 831.868338 433.42642 
L 833.934266 430.206435 
L 836.000194 425.004921 
L 838.066123 417.326495 
L 840.132051 405.68501 
L 842.197979 389.585084 
L 844.263907 369.769791 
L 846.329836 358.375998 
L 848.395764 360.109836 
L 850.461692 365.856271 
L 852.527621 368.40749 
L 856.659477 370.760556 
L 858.725405 372.370548 
L 860.791334 374.352078 
L 862.857262 376.705144 
L 864.92319 379.677438 
L 866.989118 383.392805 
L 869.055047 392.805069 
L 871.120975 413.982664 
L 873.186903 449.030963 
L 875.252831 488.661549 
L 877.31876 507.238387 
L 879.384688 512.811438 
L 881.450616 517.641416 
L 883.516544 522.099856 
L 885.582473 526.261068 
L 887.648401 527.350909 
L 889.714329 519.622945 
L 891.780258 517.146033 
L 893.846186 509.715298 
L 895.912114 501.046108 
L 897.978042 478.753903 
L 902.109899 439.123317 
L 904.175827 432.435655 
L 906.241755 431.940273 
L 908.307684 434.417185 
L 910.373612 437.63717 
L 912.43954 439.742545 
L 914.505468 441.00577 
L 916.571397 441.724074 
L 920.703253 442.330917 
L 922.769181 442.590993 
L 931.032895 442.442378 
L 935.164751 441.600228 
L 937.230679 440.857155 
L 941.362536 441.00577 
L 943.428464 440.361773 
L 945.494392 439.569161 
L 947.560321 440.361773 
L 949.626249 441.971765 
L 953.758105 435.630871 
L 955.824034 441.600228 
L 957.889962 443.334067 
L 959.95589 460.300911 
L 962.021818 449.204347 
L 964.087747 443.210221 
L 966.153675 443.086375 
L 974.417388 443.309298 
L 976.483316 442.095611 
L 980.615173 441.600228 
L 984.747029 440.609464 
L 986.812958 439.990236 
L 988.878886 439.494854 
L 990.944814 439.371008 
L 993.010742 440.609464 
L 995.076671 440.956231 
L 997.142599 440.857155 
L 999.208527 441.228692 
L 1001.274455 441.352537 
L 1005.406312 440.981001 
L 1007.47224 441.007924 
L 1011.604097 442.084842 
L 1013.670025 442.587403 
L 1015.735953 443.879705 
L 1017.801882 445.315596 
L 1019.86781 448.905323 
L 1021.933738 452.854023 
L 1026.065595 461.469367 
L 1028.131523 441.366896 
L 1030.197451 453.930941 
L 1032.263379 453.930941 
L 1034.329308 454.648886 
L 1036.395236 455.007859 
L 1038.461164 454.289913 
L 1042.593021 450.700186 
L 1046.724877 447.828405 
L 1048.790806 447.325843 
L 1050.856734 447.110459 
L 1052.922662 448.330967 
L 1054.98859 449.264296 
L 1057.054519 449.623268 
L 1059.120447 445.674569 
L 1061.186375 444.74124 
L 1063.252303 443.520732 
L 1065.318232 441.58228 
L 1067.38416 439.21306 
L 1069.450088 434.546415 
L 1071.516016 424.495179 
L 1073.581945 413.367026 
L 1075.647873 415.879835 
L 1077.713801 402.238872 
L 1079.779729 392.546609 
L 1081.845658 418.033671 
L 1083.911586 416.956753 
L 1085.977514 423.059289 
L 1088.043443 437.418197 
L 1090.109371 458.238613 
L 1092.175299 439.572033 
L 1094.241227 486.382791 
L 1096.307156 430.597715 
L 1098.373084 433.82847 
L 1100.439012 439.931005 
L 1102.50494 441.869458 
L 1104.570869 442.084842 
L 1106.636797 440.864334 
L 1108.702725 440.433567 
L 1110.768653 440.289978 
L 1110.768653 440.289978 
" clip-path="url(#pf9d5635f9f)" style="fill: none; stroke: #ffa500; stroke-width: 1.5; stroke-linecap: square"/>
   </g>
   <g id="line2d_140">
    <path d="M 654.198507 454.678322 
L 695.517073 453.489404 
L 720.308212 453.291251 
L 809.143127 453.390328 
L 811.209055 453.61325 
L 813.274984 454.108632 
L 815.340912 454.851706 
L 819.472768 456.585544 
L 821.538697 457.328617 
L 823.604625 457.601078 
L 827.736481 456.957081 
L 838.066123 454.517323 
L 840.132051 454.108632 
L 842.197979 457.700154 
L 844.263907 468.350874 
L 846.329836 476.896219 
L 848.395764 470.580095 
L 850.461692 453.489404 
L 852.527621 442.590993 
L 854.593549 438.132552 
L 856.659477 434.169494 
L 858.725405 431.940273 
L 860.791334 430.206435 
L 862.857262 427.481832 
L 864.92319 423.518774 
L 866.989118 415.592656 
L 869.055047 399.492731 
L 871.120975 382.154349 
L 873.186903 372.147626 
L 875.252831 387.108173 
L 877.31876 405.189628 
L 879.384688 418.490643 
L 881.450616 421.537244 
L 883.516544 419.803406 
L 885.582473 412.372671 
L 887.648401 401.969642 
L 889.714329 389.585084 
L 893.846186 366.797497 
L 895.912114 357.137542 
L 897.978042 350.548957 
L 900.043971 362.685824 
L 904.175827 393.795834 
L 906.241755 409.400377 
L 908.307684 422.280318 
L 910.373612 432.931038 
L 912.43954 439.618699 
L 914.505468 442.838684 
L 916.571397 444.324831 
L 918.637325 445.067905 
L 922.769181 445.48898 
L 928.966966 445.662364 
L 931.032895 446.182515 
L 933.098823 446.380668 
L 937.230679 445.810978 
L 943.428464 446.925588 
L 945.494392 447.17328 
L 947.560321 447.668662 
L 949.626249 448.783272 
L 951.692177 450.51711 
L 953.758105 452.622485 
L 955.824034 453.61325 
L 957.889962 455.223242 
L 959.95589 447.792508 
L 962.021818 458.492766 
L 964.087747 453.093098 
L 966.153675 449.4025 
L 968.219603 448.28789 
L 970.285532 446.801743 
L 972.35146 446.182515 
L 974.417388 446.801743 
L 978.549245 445.563287 
L 980.615173 446.058669 
L 982.681101 446.925588 
L 984.747029 447.544816 
L 986.812958 447.817277 
L 988.878886 446.801743 
L 990.944814 445.315596 
L 993.010742 444.597292 
L 997.142599 444.572522 
L 1001.274455 444.820214 
L 1005.406312 446.801743 
L 1007.47224 447.469432 
L 1009.538169 448.905323 
L 1011.604097 450.700186 
L 1017.801882 458.382202 
L 1019.86781 458.238613 
L 1021.933738 456.084777 
L 1023.999666 451.059159 
L 1026.065595 446.751487 
L 1028.131523 446.033541 
L 1030.197451 450.341214 
L 1032.263379 451.059159 
L 1036.395236 445.315596 
L 1038.461164 442.802787 
L 1040.527092 441.007924 
L 1042.593021 440.433567 
L 1044.658949 440.146389 
L 1046.724877 440.577156 
L 1048.790806 439.572033 
L 1050.856734 438.997676 
L 1052.922662 441.869458 
L 1054.98859 441.58228 
L 1057.054519 440.648951 
L 1061.186375 437.059224 
L 1063.252303 434.402826 
L 1065.318232 433.110524 
L 1067.38416 432.033606 
L 1069.450088 435.982306 
L 1071.516016 459.315531 
L 1073.581945 454.289913 
L 1075.647873 459.315531 
L 1077.713801 453.930941 
L 1079.779729 429.21567 
L 1081.845658 402.956817 
L 1083.911586 413.008053 
L 1085.977514 428.084906 
L 1088.043443 441.725869 
L 1090.109371 445.315596 
L 1092.175299 407.26449 
L 1094.241227 321.569091 
L 1096.307156 416.59778 
L 1098.373084 433.82847 
L 1100.439012 440.648951 
L 1102.50494 442.300225 
L 1104.570869 442.802787 
L 1106.636797 444.238678 
L 1108.702725 445.315596 
L 1110.768653 445.674569 
L 1110.768653 445.674569 
" clip-path="url(#pf9d5635f9f)" style="fill: none; stroke-dasharray: 5.55,2.4; stroke-dashoffset: 0; stroke: #ffa500; stroke-width: 1.5"/>
   </g>
   <g id="patch_27">
    <path d="M 631.8000 538.2000 L 631.8000 311.4000" style="fill: none; stroke: #000000; stroke-width: 0.8; stroke-linejoin: miter; stroke-linecap: square"/>
   </g>
   <g id="patch_28">
    <path d="M 1133.6400 538.2000 L 1133.6400 311.4000" style="fill: none; stroke: #000000; stroke-width: 0.8; stroke-linejoin: miter; stroke-linecap: square"/>
   </g>
   <g id="patch_29">
    <path d="M 631.8000 538.2000 L 1133.6400 538.2000" style="fill: none; stroke: #000000; stroke-width: 0.8; stroke-linejoin: miter; stroke-linecap: square"/>
   </g>
   <g id="patch_30">
    <path d="M 631.8000 311.4000 L 1133.6400 311.4000" style="fill: none; stroke: #000000; stroke-width: 0.8; stroke-linejoin: miter; stroke-linecap: square"/>
   </g>
   <g id="text_73">
    <text style="font-size: 12px; font-family: 'DejaVu Sans', 'Liberation Sans', sans-serif; text-anchor: middle" x="882.48358" y="305.28" transform="rotate(-0 882.48358 305.28)">Impedancje faz (R + jX)</text>
   </g>
   <g id="legend_4">
    <g id="patch_31">
     <path d="M 638.37 409.0175 
L 694.252813 409.0175 
Q 696.252813 409.0175 696.252813 407.0175 
L 696.252813 318.28 
Q 696.252813 316.28 694.252813 316.28 
L 638.37 316.28 
Q 636.37 316.28 636.37 318.28 
L 636.37 407.0175 
Q 636.37 409.0175 638.37 409.0175 
z
" style="fill: #ffffff; opacity: 0.8; stroke: #cccccc; stroke-linejoin: miter"/>
    </g>
    <g id="line2d_141">
     <path d="M 640.0800 324.7200 L 650.1600 324.7200 L 660.2400 324.7200" style="fill: none; stroke: #0000ff; stroke-width: 1.5; stroke-linecap: square"/>
    </g>
    <g id="text_74">
     <text style="font-size: 10px; font-family: 'DejaVu Sans', 'Liberation Sans', sans-serif; text-anchor: start" x="668.37" y="327.878438" transform="rotate(-0 668.37 327.878438)">R_L1</text>
    </g>
    <g id="line2d_142">
     <path d="M 640.0800 339.1200 L 650.1600 339.1200 L 660.2400 339.1200" style="fill: none; stroke-dasharray: 5.55,2.4; stroke-dashoffset: 0; stroke: #0000ff; stroke-width: 1.5"/>
    </g>
    <g id="text_75">
     <text style="font-size: 10px; font-family: 'DejaVu Sans', 'Liberation Sans', sans-serif; text-anchor: start" x="668.37" y="342.834688" transform="rotate(-0 668.37 342.834688)">X_L1</text>
    </g>
    <g id="line2d_143">
     <path d="M 640.0800 354.2400 L 650.1600 354.2400 L 660.2400 354.2400" style="fill: none; stroke: #008000; stroke-width: 1.5; stroke-linecap: square"/>
    </g>
    <g id="text_76">
     <text style="font-size: 10px; font-family: 'DejaVu Sans', 'Liberation Sans', sans-serif; text-anchor: start" x="668.37" y="357.790938" transform="rotate(-0 668.37 357.790938)">R_L2</text>
    </g>
    <g id="line2d_144">
     <path d="M 640.0800 369.3600 L 650.1600 369.3600 L 660.2400 369.3600" style="fill: none; stroke-dasharray: 5.55,2.4; stroke-dashoffset: 0; stroke: #008000; stroke-width: 1.5"/>
    </g>
    <g id="text_77">
     <text style="font-size: 10px; font-family: 'DejaVu Sans', 'Liberation Sans', sans-serif; text-anchor: start" x="668.37" y="372.747188" transform="rotate(-0 668.37 372.747188)">X_L2</text>
    </g>
    <g id="line2d_145">
     <path d="M 640.0800 384.4800 L 650.1600 384.4800 L 660.2400 384.4800" style="fill: none; stroke: #ffa500; stroke-width: 1.5; stroke-linecap: square"/>
    </g>
    <g id="text_78">
     <text style="font-size: 10px; font-family: 'DejaVu Sans', 'Liberation Sans', sans-serif; text-anchor: start" x="668.37" y="387.703438" transform="rotate(-0 668.37 387.703438)">R_L3</text>
    </g>
    <g id="line2d_146">
     <path d="M 640.0800 398.8800 L 650.1600 398.8800 L 660.2400 398.8800" style="fill: none; stroke-dasharray: 5.55,2.4; stroke-dashoffset: 0; stroke: #ffa500; stroke-width: 1.5"/>
    </g>
    <g id="text_79">
     <text style="font-size: 10px; font-family: 'DejaVu Sans', 'Liberation Sans', sans-serif; text-anchor: start" x="668.37" y="402.659688" transform="rotate(-0 668.37 402.659688)">X_L3</text>
    </g>
   </g>
  </g>
  <g id="axes_5">
   <g id="patch_32">
    <path d="M 56.1600 822.2400 L 558.0000 822.2400 L 558.0000 595.4400 L 56.1600 595.4400 z" style="fill: #ffffff"/>
   </g>
   <g id="matplotlib.axis_9">
    <g id="xtick_25">
     <g id="line2d_147">
      <path d="M 141.4800 822.6000 L 141.4800 595.8000" clip-path="url(#pb0f67c6d3d)" style="fill: none; stroke: #b0b0b0; stroke-width: 0.8; stroke-linecap: square"/>
     </g>
     <g id="line2d_148">
      <g>
       <use href="#me4258ba3a0" x="141.4800" y="822.6000" style="stroke: #000000; stroke-width: 0.8"/>
      </g>
     </g>
     <g id="text_80">
      <text style="font-size: 10px; font-family: 'DejaVu Sans', 'Liberation Sans', sans-serif; text-anchor: middle" x="140.896355" y="836.638438" transform="rotate(-0 140.896355 836.638438)">0.05</text>
     </g>
    </g>
    <g id="xtick_26">
     <g id="line2d_149">
      <path d="M 244.4400 822.6000 L 244.4400 595.8000" clip-path="url(#pb0f67c6d3d)" style="fill: none; stroke: #b0b0b0; stroke-width: 0.8; stroke-linecap: square"/>
     </g>
     <g id="line2d_150">
      <g>
       <use href="#me4258ba3a0" x="244.4400" y="822.6000" style="stroke: #000000; stroke-width: 0.8"/>
      </g>
     </g>
     <g id="text_81">
      <text style="font-size: 10px; font-family: 'DejaVu Sans', 'Liberation Sans', sans-serif; text-anchor: middle" x="244.192768" y="836.638438" transform="rotate(-0 244.192768 836.638438)">0.10</text>
     </g>
    </g>
    <g id="xtick_27">
     <g id="line2d_151">
      <path d="M 348.1200 822.6000 L 348.1200 595.8000" clip-path="url(#pb0f67c6d3d)" style="fill: none; stroke: #b0b0b0; stroke-width: 0.8; stroke-linecap: square"/>
     </g>
     <g id="line2d_152">
      <g>
       <use href="#me4258ba3a0" x="348.1200" y="822.6000" style="stroke: #000000; stroke-width: 0.8"/>
      </g>
     </g>
     <g id="text_82">
      <text style="font-size: 10px; font-family: 'DejaVu Sans', 'Liberation Sans', sans-serif; text-anchor: middle" x="347.489181" y="836.638438" transform="rotate(-0 347.489181 836.638438)">0.15</text>
     </g>
    </g>
    <g id="xtick_28">
     <g id="line2d_153">
      <path d="M 451.0800 822.6000 L 451.0800 595.8000" clip-path="url(#pb0f67c6d3d)" style="fill: none; stroke: #b0b0b0; stroke-width: 0.8; stroke-linecap: square"/>
     </g>
     <g id="line2d_154">
      <g>
       <use href="#me4258ba3a0" x="451.0800" y="822.6000" style="stroke: #000000; stroke-width: 0.8"/>
      </g>
     </g>
     <g id="text_83">
      <text style="font-size: 10px; font-family: 'DejaVu Sans', 'Liberation Sans', sans-serif; text-anchor: middle" x="450.785595" y="836.638438" transform="rotate(-0 450.785595 836.638438)">0.20</text>
     </g>
    </g>
    <g id="xtick_29">
     <g id="line2d_155">
      <path d="M 554.7600 822.6000 L 554.7600 595.8000" clip-path="url(#pb0f67c6d3d)" style="fill: none; stroke: #b0b0b0; stroke-width: 0.8; stroke-linecap: square"/>
     </g>
     <g id="line2d_156">
      <g>
       <use href="#me4258ba3a0" x="554.7600" y="822.6000" style="stroke: #000000; stroke-width: 0.8"/>
      </g>
     </g>
     <g id="text_84">
      <text style="font-size: 10px; font-family: 'DejaVu Sans', 'Liberation Sans', sans-serif; text-anchor: middle" x="554.082008" y="836.638438" transform="rotate(-0 554.082008 836.638438)">0.25</text>
     </g>
    </g>
    <g id="text_85">
     <text style="font-size: 10px; font-family: 'DejaVu Sans', 'Liberation Sans', sans-serif; text-anchor: middle" x="307.20358" y="850.316563" transform="rotate(-0 307.20358 850.316563)">Czas [s]</text>
    </g>
   </g>
   <g id="matplotlib.axis_10">
    <g id="ytick_24">
     <g id="line2d_157">
      <path d="M 56.5200 786.6000 L 558.3600 786.6000" clip-path="url(#pb0f67c6d3d)" style="fill: none; stroke: #b0b0b0; stroke-width: 0.8; stroke-linecap: square"/>
     </g>
     <g id="line2d_158">
      <g>
       <use href="#m37318fec9a" x="56.5200" y="786.6000" style="stroke: #000000; stroke-width: 0.8"/>
      </g>
     </g>
     <g id="text_86">
      <text style="font-size: 10px; font-family: 'DejaVu Sans', 'Liberation Sans', sans-serif; text-anchor: end" x="49.09" y="790.135676" transform="rotate(-0 49.09 790.135676)">−1.0</text>
     </g>
    </g>
    <g id="ytick_25">
     <g id="line2d_159">
      <path d="M 56.5200 744.8400 L 558.3600 744.8400" clip-path="url(#pb0f67c6d3d)" style="fill: none; stroke: #b0b0b0; stroke-width: 0.8; stroke-linecap: square"/>
     </g>
     <g id="line2d_160">
      <g>
       <use href="#m37318fec9a" x="56.5200" y="744.8400" style="stroke: #000000; stroke-width: 0.8"/>
      </g>
     </g>
     <g id="text_87">
      <text style="font-size: 10px; font-family: 'DejaVu Sans', 'Liberation Sans', sans-serif; text-anchor: end" x="49.09" y="748.335591" transform="rotate(-0 49.09 748.335591)">−0.5</text>
     </g>
    </g>
    <g id="ytick_26">
     <g id="line2d_161">
      <path d="M 56.5200 703.0800 L 558.3600 703.0800" clip-path="url(#pb0f67c6d3d)" style="fill: none; stroke: #b0b0b0; stroke-width: 0.8; stroke-linecap: square"/>
     </g>
     <g id="line2d_162">
      <g>
       <use href="#m37318fec9a" x="56.5200" y="703.0800" style="stroke: #000000; stroke-width: 0.8"/>
      </g>
     </g>
     <g id="text_88">
      <text style="font-size: 10px; font-family: 'DejaVu Sans', 'Liberation Sans', sans-serif; text-anchor: end" x="49.09" y="706.535506" transform="rotate(-0 49.09 706.535506)">0.0</text>
     </g>
    </g>
    <g id="ytick_27">
     <g id="line2d_163">
      <path d="M 56.5200 661.3200 L 558.3600 661.3200" clip-path="url(#pb0f67c6d3d)" style="fill: none; stroke: #b0b0b0; stroke-width: 0.8; stroke-linecap: square"/>
     </g>
     <g id="line2d_164">
      <g>
       <use href="#m37318fec9a" x="56.5200" y="661.3200" style="stroke: #000000; stroke-width: 0.8"/>
      </g>
     </g>
     <g id="text_89">
      <text style="font-size: 10px; font-family: 'DejaVu Sans', 'Liberation Sans', sans-serif; text-anchor: end" x="49.09" y="664.735421" transform="rotate(-0 49.09 664.735421)">0.5</text>
     </g>
    </g>
    <g id="ytick_28">
     <g id="line2d_165">
      <path d="M 56.5200 619.5600 L 558.3600 619.5600" clip-path="url(#pb0f67c6d3d)" style="fill: none; stroke: #b0b0b0; stroke-width: 0.8; stroke-linecap: square"/>
     </g>
     <g id="line2d_166">
      <g>
       <use href="#m37318fec9a" x="56.5200" y="619.5600" style="stroke: #000000; stroke-width: 0.8"/>
      </g>
     </g>
     <g id="text_90">
      <text style="font-size: 10px; font-family: 'DejaVu Sans', 'Liberation Sans', sans-serif; text-anchor: end" x="49.09" y="622.935336" transform="rotate(-0 49.09 622.935336)">1.0</text>
     </g>
    </g>
    <g id="text_91">
     <text style="font-size: 10px; font-family: 'DejaVu Sans', 'Liberation Sans', sans-serif; text-anchor: middle" x="18.7275" y="708.86" transform="rotate(-90 18.7275 708.86)">Wartosc</text>
    </g>
   </g>
   <g id="line2d_167">
    <path d="M 78.918507 714.858312 
L 80.984436 710.343903 
L 83.050364 709.758702 
L 85.116292 713.019108 
L 87.18222 723.38553 
L 89.248149 737.012357 
L 91.314077 748.967182 
L 93.380005 753.899592 
L 95.445933 743.700371 
L 97.511862 725.308333 
L 99.57779 701.064284 
L 101.643718 689.27666 
L 103.709646 688.858659 
L 105.775575 684.09345 
L 107.841503 669.54702 
L 109.907431 650.736982 
L 111.97336 638.865758 
L 114.039288 637.277355 
L 116.105216 648.897778 
L 118.171144 669.29622 
L 120.237073 705.244293 
L 122.303001 723.80353 
L 124.368929 723.80353 
L 126.434857 732.330748 
L 128.500786 745.790375 
L 132.632642 774.047232 
L 134.69857 776.722438 
L 136.764499 764.600413 
L 138.830427 741.275966 
L 142.962283 680.749443 
L 145.028212 678.993839 
L 147.09414 668.460218 
L 149.160068 657.006995 
L 153.291925 630.505741 
L 155.357853 629.000938 
L 157.423781 639.95256 
L 159.48971 660.936203 
L 161.555638 700.228282 
L 163.621566 724.221531 
L 165.687494 726.980337 
L 167.753423 735.005953 
L 169.819351 748.46558 
L 171.885279 763.764412 
L 173.951207 774.465233 
L 176.017136 774.465233 
L 178.083064 762.84481 
L 180.148992 741.275966 
L 182.21492 712.601108 
L 184.280849 680.749443 
L 186.346777 678.492238 
L 188.412705 667.624216 
L 190.478634 655.920192 
L 192.544562 642.544165 
L 194.61049 630.25494 
L 196.676418 629.92054 
L 198.742347 641.708164 
L 200.808275 662.357405 
L 202.874203 701.064284 
L 204.940131 724.723132 
L 207.00606 727.398338 
L 209.071988 736.845157 
L 211.137916 751.140786 
L 213.203844 767.359219 
L 215.269773 774.047232 
L 217.335701 771.957228 
L 219.401629 761.925208 
L 221.467557 735.005953 
L 223.533486 704.408291 
L 225.599414 678.074237 
L 227.665342 669.129019 
L 229.731271 651.740184 
L 231.797199 632.762945 
L 233.863127 614.956109 
L 235.929055 605.969091 
L 237.994984 606.094491 
L 240.060912 621.142522 
L 242.12684 650.904182 
L 244.192768 700.228282 
L 246.258697 738.60076 
L 248.324625 753.899592 
L 250.390553 768.195221 
L 252.456481 783.494052 
L 254.52241 799.628884 
L 256.588338 811.750909 
L 258.654266 808.574103 
L 260.720194 790.516466 
L 262.786123 757.9124 
L 266.917979 673.894229 
L 268.983907 673.309028 
L 271.049836 676.736635 
L 273.115764 679.829841 
L 275.181692 682.588647 
L 277.247621 684.762251 
L 279.313549 686.601455 
L 283.445405 689.694661 
L 289.64319 695.128672 
L 291.709118 696.884276 
L 293.775047 698.389079 
L 295.840975 699.559481 
L 297.906903 700.479083 
L 299.972831 700.980684 
L 302.03876 701.064284 
L 310.302473 700.825427 
L 312.368401 700.647442 
L 314.434329 700.963805 
L 316.500258 700.608057 
L 322.698042 700.831898 
L 324.763971 700.347919 
L 326.829899 700.811474 
L 328.895827 700.923402 
L 330.961755 700.630167 
L 335.093612 700.812609 
L 337.15954 700.650191 
L 341.291397 700.771226 
L 343.357325 700.662125 
L 347.489181 701.026021 
L 353.686966 700.978652 
L 357.818823 701.489062 
L 359.884751 701.12946 
L 361.950679 701.469018 
L 364.016608 701.639449 
L 366.082536 701.195258 
L 368.148464 701.463695 
L 370.214392 701.253194 
L 374.346249 701.674976 
L 376.412177 701.742181 
L 378.478105 701.631705 
L 380.544034 700.61982 
L 382.609962 701.779789 
L 384.67589 701.708237 
L 386.741818 702.012331 
L 388.807747 701.730057 
L 390.873675 702.124679 
L 392.939603 701.807042 
L 397.07146 701.57175 
L 399.137388 701.458379 
L 401.203316 702.158671 
L 403.269245 701.691552 
L 405.335173 701.614732 
L 407.401101 701.678629 
L 409.467029 702.094515 
L 413.598886 701.544973 
L 415.664814 702.263377 
L 417.730742 701.867611 
L 419.796671 701.751417 
L 421.862599 702.146194 
L 423.928527 701.895485 
L 425.994455 702.257863 
L 434.258169 702.119941 
L 436.324097 701.918236 
L 438.390025 702.330885 
L 442.521882 701.966941 
L 444.58781 702.067324 
L 446.653738 702.478097 
L 448.719666 702.078939 
L 450.785595 702.334676 
L 452.851523 702.158219 
L 454.917451 702.18 
L 456.983379 701.992083 
L 459.049308 702.226638 
L 461.115236 702.642523 
L 463.181164 702.545456 
L 465.247092 702.110421 
L 467.313021 702.321299 
L 469.378949 702.033551 
L 473.510806 702.4361 
L 475.576734 702.0574 
L 477.642662 702.456448 
L 479.70859 702.720781 
L 481.774519 701.864523 
L 483.840447 702.699283 
L 485.906375 702.171003 
L 487.972303 702.111871 
L 490.038232 702.281433 
L 492.10416 702.668078 
L 494.170088 702.108187 
L 496.236016 702.625687 
L 498.301945 702.609301 
L 502.433801 702.17184 
L 504.499729 702.277992 
L 506.565658 702.175343 
L 508.631586 702.441594 
L 510.697514 702.388937 
L 512.763443 702.59469 
L 516.895299 702.24122 
L 518.961227 701.428725 
L 521.027156 702.273969 
L 523.093084 702.497233 
L 525.159012 702.505307 
L 527.22494 702.377388 
L 529.290869 702.430383 
L 531.356797 702.269922 
L 533.422725 702.360546 
L 535.488653 702.038154 
L 535.488653 702.038154 
" clip-path="url(#pb0f67c6d3d)" style="fill: none; stroke: #0000ff; stroke-opacity: 0.5; stroke-width: 1.5; stroke-linecap: square"/>
   </g>
   <g id="line2d_168">
    <path d="M 78.918507 717.863989 
L 80.984436 719.704217 
L 83.050364 719.272849 
L 85.116292 717.342582 
L 87.18222 714.734057 
L 89.248149 711.714741 
L 91.314077 707.962752 
L 93.380005 703.107392 
L 97.511862 691.767303 
L 99.57779 687.608586 
L 101.643718 685.768358 
L 103.709646 686.199726 
L 105.775575 688.129993 
L 107.841503 690.738518 
L 109.907431 693.757834 
L 111.97336 697.509823 
L 114.039288 702.365183 
L 118.171144 713.705272 
L 120.237073 717.863989 
L 122.303001 719.704217 
L 124.368929 719.272849 
L 126.434857 717.342582 
L 128.500786 714.734057 
L 130.566714 711.714741 
L 132.632642 707.962752 
L 134.69857 703.107392 
L 138.830427 691.767303 
L 140.896355 687.608586 
L 142.962283 685.768358 
L 145.028212 686.199726 
L 147.09414 688.129993 
L 149.160068 690.738518 
L 151.225997 693.757834 
L 153.291925 697.509823 
L 155.357853 702.365183 
L 159.48971 713.705272 
L 161.555638 717.863989 
L 163.621566 719.704217 
L 165.687494 719.272849 
L 167.753423 717.342582 
L 169.819351 714.734057 
L 171.885279 711.714741 
L 173.951207 707.962752 
L 176.017136 703.107392 
L 180.148992 691.767303 
L 182.21492 687.608586 
L 184.280849 685.768358 
L 186.346777 686.199726 
L 188.412705 688.129993 
L 190.478634 690.738518 
L 192.544562 693.757834 
L 194.61049 697.509823 
L 196.676418 702.365183 
L 200.808275 713.705272 
L 202.874203 717.863989 
L 204.940131 719.704217 
L 207.00606 719.272849 
L 209.071988 717.342582 
L 211.137916 714.734057 
L 213.203844 711.714741 
L 215.269773 707.962752 
L 217.335701 703.107392 
L 221.467557 691.767303 
L 223.533486 687.608586 
L 225.599414 686.183454 
L 227.665342 687.270256 
L 229.731271 690.196262 
L 233.863127 696.884276 
L 235.929055 700.646283 
L 237.994984 704.07389 
L 240.060912 703.154288 
L 242.12684 703.99029 
L 246.258697 704.939152 
L 248.324625 705.411493 
L 252.456481 705.913094 
L 256.588338 706.247495 
L 258.654266 705.896374 
L 262.786123 704.491891 
L 264.852051 703.73949 
L 268.983907 702.736288 
L 271.049836 702.318287 
L 283.445405 702.238487 
L 287.577262 701.805145 
L 289.64319 701.398685 
L 291.709118 700.666643 
L 293.775047 699.810282 
L 295.840975 699.14148 
L 297.906903 698.742479 
L 299.972831 698.556279 
L 302.03876 698.758283 
L 308.236544 700.016819 
L 310.302473 700.399233 
L 312.368401 700.999488 
L 314.434329 700.998955 
L 316.500258 701.563728 
L 318.566186 701.578768 
L 320.632114 701.804677 
L 322.698042 701.683601 
L 324.763971 702.33857 
L 326.829899 702.554866 
L 328.895827 702.572879 
L 330.961755 702.797093 
L 337.15954 702.876754 
L 339.225468 702.840611 
L 341.291397 703.339655 
L 343.357325 702.857507 
L 345.423253 703.030897 
L 349.55511 703.819115 
L 351.621038 703.479463 
L 353.686966 703.48167 
L 355.752895 703.905076 
L 357.818823 703.533735 
L 361.950679 703.723993 
L 364.016608 703.508896 
L 366.082536 703.465099 
L 368.148464 703.732459 
L 370.214392 703.629199 
L 372.280321 703.791842 
L 374.346249 703.82704 
L 378.478105 703.629304 
L 382.609962 704.10137 
L 384.67589 703.637862 
L 386.741818 704.005509 
L 390.873675 703.440761 
L 395.005532 703.927385 
L 397.07146 703.964585 
L 399.137388 703.514384 
L 401.203316 703.700873 
L 405.335173 703.51409 
L 407.401101 703.660434 
L 411.532958 703.773542 
L 413.598886 704.11047 
L 417.730742 703.564263 
L 419.796671 703.559852 
L 421.862599 703.440622 
L 423.928527 703.506605 
L 428.060384 703.308278 
L 430.126312 703.565524 
L 432.19224 703.443474 
L 434.258169 703.642623 
L 436.324097 703.190331 
L 438.390025 703.326495 
L 444.58781 703.098558 
L 446.653738 703.273759 
L 448.719666 703.118253 
L 450.785595 703.47727 
L 452.851523 703.154204 
L 454.917451 703.192451 
L 456.983379 703.475242 
L 459.049308 702.970129 
L 461.115236 703.300593 
L 463.181164 703.057864 
L 465.247092 703.231636 
L 467.313021 702.984725 
L 469.378949 702.920966 
L 471.444877 703.268806 
L 473.510806 703.37567 
L 477.642662 702.957771 
L 479.70859 703.151965 
L 481.774519 703.182784 
L 483.840447 702.989038 
L 485.906375 703.523044 
L 487.972303 703.163267 
L 490.038232 703.274483 
L 492.10416 702.984988 
L 496.236016 703.203653 
L 498.301945 703.068119 
L 500.367873 703.246449 
L 502.433801 702.995315 
L 504.499729 703.099629 
L 508.631586 703.090976 
L 510.697514 702.811672 
L 512.763443 702.975789 
L 514.829371 702.863535 
L 516.895299 702.864924 
L 518.961227 703.074118 
L 521.027156 702.838495 
L 529.290869 702.985969 
L 533.422725 702.542041 
L 535.488653 703.042285 
L 535.488653 703.042285 
" clip-path="url(#pb0f67c6d3d)" style="fill: none; stroke: #008000; stroke-opacity: 0.5; stroke-width: 1.5; stroke-linecap: square"/>
   </g>
   <g id="line2d_169">
    <path d="M 78.918507 691.059868 
L 80.984436 695.696515 
L 85.116292 705.824858 
L 89.248149 715.878477 
L 91.314077 719.834565 
L 93.380005 722.023619 
L 95.445933 721.878789 
L 97.511862 719.431232 
L 99.57779 715.282999 
L 101.643718 710.240162 
L 109.907431 689.057497 
L 111.97336 685.017269 
L 114.039288 682.825924 
L 116.105216 683.043246 
L 118.171144 685.613616 
L 120.237073 689.903082 
L 124.368929 700.536963 
L 128.500786 711.490685 
L 130.566714 716.591724 
L 132.632642 720.659649 
L 134.69857 722.851749 
L 136.764499 722.610563 
L 138.830427 719.999763 
L 140.896355 715.663805 
L 145.028212 704.948526 
L 149.160068 693.9408 
L 151.225997 688.822701 
L 153.291925 684.745657 
L 155.357853 682.553309 
L 157.423781 682.802352 
L 159.48971 685.42646 
L 161.555638 689.777724 
L 165.687494 700.519798 
L 169.819351 711.545301 
L 171.885279 716.669017 
L 173.951207 720.749062 
L 176.017136 722.941492 
L 178.083064 722.689863 
L 180.148992 720.061374 
L 182.21492 715.705072 
L 186.346777 704.954177 
L 190.478634 693.922821 
L 192.544562 688.797256 
L 194.61049 684.716223 
L 196.676418 682.523767 
L 198.742347 682.776246 
L 200.808275 685.406178 
L 202.874203 689.764139 
L 207.00606 700.517938 
L 211.137916 711.55122 
L 213.203844 716.677393 
L 215.269773 720.758752 
L 217.335701 722.951217 
L 219.401629 721.546326 
L 221.467557 718.62032 
L 225.599414 708.588299 
L 229.731271 700.228282 
L 231.797199 696.884276 
L 233.863127 698.97428 
L 242.12684 698.221878 
L 246.258697 697.553077 
L 252.456481 698.221878 
L 262.786123 701.649485 
L 266.917979 702.318287 
L 273.115764 702.067486 
L 281.379477 702.318287 
L 291.709118 703.572289 
L 299.972831 704.07389 
L 308.236544 703.405089 
L 310.302473 703.042822 
L 312.368401 703.167604 
L 314.434329 702.599685 
L 316.500258 702.314724 
L 318.566186 702.189206 
L 320.632114 702.69431 
L 322.698042 702.643054 
L 324.763971 703.021089 
L 326.829899 702.106575 
L 328.895827 702.550247 
L 330.961755 702.378158 
L 333.027684 702.370615 
L 335.093612 702.234709 
L 337.15954 702.249379 
L 339.225468 702.419072 
L 341.291397 702.081528 
L 343.357325 702.181398 
L 345.423253 701.809184 
L 347.489181 702.251962 
L 349.55511 702.224135 
L 351.621038 701.943468 
L 353.686966 701.809251 
L 357.818823 702.350689 
L 359.884751 702.222721 
L 361.950679 702.338741 
L 364.016608 701.758959 
L 366.082536 702.03019 
L 368.148464 700.956162 
L 370.214392 702.221759 
L 372.280321 702.457512 
L 374.346249 702.044932 
L 376.412177 701.945275 
L 378.478105 702.235031 
L 380.544034 702.407969 
L 382.609962 702.151678 
L 384.67589 702.536763 
L 386.741818 702.27284 
L 388.807747 702.663953 
L 390.873675 702.730033 
L 392.939603 702.345777 
L 395.005532 702.404266 
L 397.07146 702.012596 
L 399.137388 702.561625 
L 401.203316 702.486671 
L 405.335173 702.963723 
L 407.401101 702.942714 
L 409.467029 702.381114 
L 411.532958 702.793541 
L 413.598886 702.217018 
L 415.664814 702.144089 
L 419.796671 702.923217 
L 421.862599 702.447345 
L 423.928527 702.223365 
L 425.994455 702.563289 
L 428.060384 702.267298 
L 430.126312 702.745621 
L 432.19224 702.354045 
L 434.258169 702.626563 
L 440.455953 702.471608 
L 442.521882 702.534754 
L 444.58781 702.334751 
L 446.653738 702.317012 
L 448.719666 702.866994 
L 450.785595 702.380628 
L 452.851523 700.681698 
L 454.917451 702.711698 
L 456.983379 702.427584 
L 459.049308 702.857639 
L 461.115236 702.165715 
L 463.181164 702.58748 
L 465.247092 702.548756 
L 467.313021 702.229924 
L 469.378949 702.567208 
L 471.444877 702.382384 
L 473.510806 702.796452 
L 475.576734 702.677835 
L 477.642662 702.885347 
L 481.774519 702.279889 
L 483.840447 702.483569 
L 485.906375 702.319051 
L 487.972303 702.799379 
L 492.10416 702.661119 
L 494.170088 702.401936 
L 498.301945 702.551727 
L 500.367873 702.392915 
L 502.433801 702.588219 
L 504.499729 702.556824 
L 506.565658 702.225349 
L 508.631586 702.700817 
L 510.697514 702.509141 
L 512.763443 700.647055 
L 514.829371 702.531755 
L 516.895299 702.381286 
L 518.961227 702.711824 
L 521.027156 702.070149 
L 523.093084 703.126231 
L 525.159012 702.847688 
L 527.22494 702.828682 
L 529.290869 702.159307 
L 531.356797 702.47833 
L 535.488653 702.890553 
L 535.488653 702.890553 
" clip-path="url(#pb0f67c6d3d)" style="fill: none; stroke: #ffa500; stroke-opacity: 0.5; stroke-width: 1.5; stroke-linecap: square"/>
   </g>
   <g id="line2d_170">
    <path d="M 78.918507 702.736288 
L 262.786123 702.736288 
L 264.852051 605.969091 
L 277.247621 605.969091 
L 279.313549 702.736288 
L 535.488653 702.736288 
L 535.488653 702.736288 
" clip-path="url(#pb0f67c6d3d)" style="fill: none; stroke: #ff0000; stroke-width: 2; stroke-linecap: square"/>
   </g>
   <g id="line2d_171">
    <path d="M 79.5600 703.0800 L 536.0400 703.0800 L 536.0400 703.0800" clip-path="url(#pb0f67c6d3d)" style="fill: none; stroke-dasharray: 7.4,3.2; stroke-dashoffset: 0; stroke: #8b0000; stroke-width: 2"/>
   </g>
   <g id="line2d_172">
    <path d="M 79.5600 703.0800 L 536.0400 703.0800 L 536.0400 703.0800" clip-path="url(#pb0f67c6d3d)" style="fill: none; stroke-dasharray: 2,3.3; stroke-dashoffset: 0; stroke: #ff8c00; stroke-width: 2"/>
   </g>
   <g id="patch_33">
    <path d="M 56.5200 822.6000 L 56.5200 595.8000" style="fill: none; stroke: #000000; stroke-width: 0.8; stroke-linejoin: miter; stroke-linecap: square"/>
   </g>
   <g id="patch_34">
    <path d="M 558.3600 822.6000 L 558.3600 595.8000" style="fill: none; stroke: #000000; stroke-width: 0.8; stroke-linejoin: miter; stroke-linecap: square"/>
   </g>
   <g id="patch_35">
    <path d="M 56.5200 822.6000 L 558.3600 822.6000" style="fill: none; stroke: #000000; stroke-width: 0.8; stroke-linejoin: miter; stroke-linecap: square"/>
   </g>
   <g id="patch_36">
    <path d="M 56.5200 595.8000 L 558.3600 595.8000" style="fill: none; stroke: #000000; stroke-width: 0.8; stroke-linejoin: miter; stroke-linecap: square"/>
   </g>
   <g id="text_92">
    <text style="font-size: 12px; font-family: 'DejaVu Sans', 'Liberation Sans', sans-serif; text-anchor: middle" x="307.20358" y="589.68" transform="rotate(-0 307.20358 589.68)">Wynik testu algorytmu ZDistA</text>
   </g>
   <g id="legend_5">
    <g id="patch_37">
     <path d="M 476.407786 692.583125 
L 551.317161 692.583125 
Q 553.317161 692.583125 553.317161 690.583125 
L 553.317161 602.68 
Q 553.317161 600.68 551.317161 600.68 
L 476.407786 600.68 
Q 474.407786 600.68 474.407786 602.68 
L 474.407786 690.583125 
Q 474.407786 692.583125 476.407786 692.583125 
z
" style="fill: #ffffff; opacity: 0.8; stroke: #cccccc; stroke-linejoin: miter"/>
    </g>
    <g id="line2d_173">
     <path d="M 478.0800 609.1200 L 488.1600 609.1200 L 498.2400 609.1200" style="fill: none; stroke: #0000ff; stroke-opacity: 0.5; stroke-width: 1.5; stroke-linecap: square"/>
    </g>
    <g id="text_93">
     <text style="font-size: 10px; font-family: 'DejaVu Sans', 'Liberation Sans', sans-serif; text-anchor: start" x="506.407786" y="612.278438" transform="rotate(-0 506.407786 612.278438)">I_L1</text>
    </g>
    <g id="line2d_174">
     <path d="M 478.0800 623.5200 L 488.1600 623.5200 L 498.2400 623.5200" style="fill: none; stroke: #008000; stroke-opacity: 0.5; stroke-width: 1.5; stroke-linecap: square"/>
    </g>
    <g id="text_94">
     <text style="font-size: 10px; font-family: 'DejaVu Sans', 'Liberation Sans', sans-serif; text-anchor: start" x="506.407786" y="627.234688" transform="rotate(-0 506.407786 627.234688)">I_L2</text>
    </g>
    <g id="line2d_175">
     <path d="M 478.0800 638.6400 L 488.1600 638.6400 L 498.2400 638.6400" style="fill: none; stroke: #ffa500; stroke-opacity: 0.5; stroke-width: 1.5; stroke-linecap: square"/>
    </g>
    <g id="text_95">
     <text style="font-size: 10px; font-family: 'DejaVu Sans', 'Liberation Sans', sans-serif; text-anchor: start" x="506.407786" y="642.190938" transform="rotate(-0 506.407786 642.190938)">I_L3</text>
    </g>
    <g id="line2d_176">
     <path d="M 478.4400 654.1200 L 488.5200 654.1200 L 498.6000 654.1200" style="fill: none; stroke: #ff0000; stroke-width: 2; stroke-linecap: square"/>
    </g>
    <g id="text_96">
     <text style="font-size: 10px; font-family: 'DejaVu Sans', 'Liberation Sans', sans-serif; text-anchor: start" x="506.407786" y="657.147188" transform="rotate(-0 506.407786 657.147188)">Trip L1-E</text>
    </g>
    <g id="line2d_177">
     <path d="M 478.4400 668.5200 L 488.5200 668.5200 L 498.6000 668.5200" style="fill: none; stroke-dasharray: 7.4,3.2; stroke-dashoffset: 0; stroke: #8b0000; stroke-width: 2"/>
    </g>
    <g id="text_97">
     <text style="font-size: 10px; font-family: 'DejaVu Sans', 'Liberation Sans', sans-serif; text-anchor: start" x="506.407786" y="671.825313" transform="rotate(-0 506.407786 671.825313)">Trip L2-E</text>
    </g>
    <g id="line2d_178">
     <path d="M 478.4400 683.6400 L 488.5200 683.6400 L 498.6000 683.6400" style="fill: none; stroke-dasharray: 2,3.3; stroke-dashoffset: 0; stroke: #ff8c00; stroke-width: 2"/>
    </g>
    <g id="text_98">
     <text style="font-size: 10px; font-family: 'DejaVu Sans', 'Liberation Sans', sans-serif; text-anchor: start" x="506.407786" y="686.503438" transform="rotate(-0 506.407786 686.503438)">Trip L3-E</text>
    </g>
   </g>
  </g>
  <g id="axes_6">
   <g id="patch_38">
    <path d="M 631.4400 822.2400 L 1133.2800 822.2400 L 1133.2800 595.4400 L 631.4400 595.4400 z" style="fill: #ffffff"/>
   </g>
   <g id="matplotlib.axis_11">
    <g id="xtick_30">
     <g id="line2d_179">
      <path d="M 716.7600 822.6000 L 716.7600 595.8000" clip-path="url(#p9e218aaaf5)" style="fill: none; stroke: #b0b0b0; stroke-width: 0.8; stroke-linecap: square"/>
     </g>
     <g id="line2d_180">
      <g>
       <use href="#me4258ba3a0" x="716.7600" y="822.6000" style="stroke: #000000; stroke-width: 0.8"/>
      </g>
     </g>
     <g id="text_99">
      <text style="font-size: 10px; font-family: 'DejaVu Sans', 'Liberation Sans', sans-serif; text-anchor: middle" x="716.176355" y="836.638438" transform="rotate(-0 716.176355 836.638438)">0.05</text>
     </g>
    </g>
    <g id="xtick_31">
     <g id="line2d_181">
      <path d="M 819.7200 822.6000 L 819.7200 595.8000" clip-path="url(#p9e218aaaf5)" style="fill: none; stroke: #b0b0b0; stroke-width: 0.8; stroke-linecap: square"/>
     </g>
     <g id="line2d_182">
      <g>
       <use href="#me4258ba3a0" x="819.7200" y="822.6000" style="stroke: #000000; stroke-width: 0.8"/>
      </g>
     </g>
     <g id="text_100">
      <text style="font-size: 10px; font-family: 'DejaVu Sans', 'Liberation Sans', sans-serif; text-anchor: middle" x="819.472768" y="836.638438" transform="rotate(-0 819.472768 836.638438)">0.10</text>
     </g>
    </g>
    <g id="xtick_32">
     <g id="line2d_183">
      <path d="M 923.4000 822.6000 L 923.4000 595.8000" clip-path="url(#p9e218aaaf5)" style="fill: none; stroke: #b0b0b0; stroke-width: 0.8; stroke-linecap: square"/>
     </g>
     <g id="line2d_184">
      <g>
       <use href="#me4258ba3a0" x="923.4000" y="822.6000" style="stroke: #000000; stroke-width: 0.8"/>
      </g>
     </g>
     <g id="text_101">
      <text style="font-size: 10px; font-family: 'DejaVu Sans', 'Liberation Sans', sans-serif; text-anchor: middle" x="922.769181" y="836.638438" transform="rotate(-0 922.769181 836.638438)">0.15</text>
     </g>
    </g>
    <g id="xtick_33">
     <g id="line2d_185">
      <path d="M 1026.3600 822.6000 L 1026.3600 595.8000" clip-path="url(#p9e218aaaf5)" style="fill: none; stroke: #b0b0b0; stroke-width: 0.8; stroke-linecap: square"/>
     </g>
     <g id="line2d_186">
      <g>
       <use href="#me4258ba3a0" x="1026.3600" y="822.6000" style="stroke: #000000; stroke-width: 0.8"/>
      </g>
     </g>
     <g id="text_102">
      <text style="font-size: 10px; font-family: 'DejaVu Sans', 'Liberation Sans', sans-serif; text-anchor: middle" x="1026.065595" y="836.638438" transform="rotate(-0 1026.065595 836.638438)">0.20</text>
     </g>
    </g>
    <g id="xtick_34">
     <g id="line2d_187">
      <path d="M 1130.0400 822.6000 L 1130.0400 595.8000" clip-path="url(#p9e218aaaf5)" style="fill: none; stroke: #b0b0b0; stroke-width: 0.8; stroke-linecap: square"/>
     </g>
     <g id="line2d_188">
      <g>
       <use href="#me4258ba3a0" x="1130.0400" y="822.6000" style="stroke: #000000; stroke-width: 0.8"/>
      </g>
     </g>
     <g id="text_103">
      <text style="font-size: 10px; font-family: 'DejaVu Sans', 'Liberation Sans', sans-serif; text-anchor: middle" x="1129.362008" y="836.638438" transform="rotate(-0 1129.362008 836.638438)">0.25</text>
     </g>
    </g>
    <g id="text_104">
     <text style="font-size: 10px; font-family: 'DejaVu Sans', 'Liberation Sans', sans-serif; text-anchor: middle" x="882.48358" y="850.316563" transform="rotate(-0 882.48358 850.316563)">Czas [s]</text>
    </g>
   </g>
   <g id="matplotlib.axis_12">
    <g id="ytick_29">
     <g id="line2d_189">
      <path d="M 631.8000 811.8000 L 1133.6400 811.8000" clip-path="url(#p9e218aaaf5)" style="fill: none; stroke: #b0b0b0; stroke-width: 0.8; stroke-linecap: square"/>
     </g>
     <g id="line2d_190">
      <g>
       <use href="#m37318fec9a" x="631.8000" y="811.8000" style="stroke: #000000; stroke-width: 0.8"/>
      </g>
     </g>
     <g id="text_105">
      <text style="font-size: 10px; font-family: 'DejaVu Sans', 'Liberation Sans', sans-serif; text-anchor: end" x="624.37" y="815.550128" transform="rotate(-0 624.37 815.550128)">0</text>
     </g>
    </g>
    <g id="ytick_30">
     <g id="line2d_191">
      <path d="M 631.8000 772.9200 L 1133.6400 772.9200" clip-path="url(#p9e218aaaf5)" style="fill: none; stroke: #b0b0b0; stroke-width: 0.8; stroke-linecap: square"/>
     </g>
     <g id="line2d_192">
      <g>
       <use href="#m37318fec9a" x="631.8000" y="772.9200" style="stroke: #000000; stroke-width: 0.8"/>
      </g>
     </g>
     <g id="text_106">
      <text style="font-size: 10px; font-family: 'DejaVu Sans', 'Liberation Sans', sans-serif; text-anchor: end" x="624.37" y="776.428109" transform="rotate(-0 624.37 776.428109)">1000</text>
     </g>
    </g>
    <g id="ytick_31">
     <g id="line2d_193">
      <path d="M 631.8000 734.0400 L 1133.6400 734.0400" clip-path="url(#p9e218aaaf5)" style="fill: none; stroke: #b0b0b0; stroke-width: 0.8; stroke-linecap: square"/>
     </g>
     <g id="line2d_194">
      <g>
       <use href="#m37318fec9a" x="631.8000" y="734.0400" style="stroke: #000000; stroke-width: 0.8"/>
      </g>
     </g>
     <g id="text_107">
      <text style="font-size: 10px; font-family: 'DejaVu Sans', 'Liberation Sans', sans-serif; text-anchor: end" x="624.37" y="737.306091" transform="rotate(-0 624.37 737.306091)">2000</text>
     </g>
    </g>
    <g id="ytick_32">
     <g id="line2d_195">
      <path d="M 631.8000 694.4400 L 1133.6400 694.4400" clip-path="url(#p9e218aaaf5)" style="fill: none; stroke: #b0b0b0; stroke-width: 0.8; stroke-linecap: square"/>
     </g>
     <g id="line2d_196">
      <g>
       <use href="#m37318fec9a" x="631.8000" y="694.4400" style="stroke: #000000; stroke-width: 0.8"/>
      </g>
     </g>
     <g id="text_108">
      <text style="font-size: 10px; font-family: 'DejaVu Sans', 'Liberation Sans', sans-serif; text-anchor: end" x="624.37" y="698.184072" transform="rotate(-0 624.37 698.184072)">3000</text>
     </g>
    </g>
    <g id="ytick_33">
     <g id="line2d_197">
      <path d="M 631.8000 655.5600 L 1133.6400 655.5600" clip-path="url(#p9e218aaaf5)" style="fill: none; stroke: #b0b0b0; stroke-width: 0.8; stroke-linecap: square"/>
     </g>
     <g id="line2d_198">
      <g>
       <use href="#m37318fec9a" x="631.8000" y="655.5600" style="stroke: #000000; stroke-width: 0.8"/>
      </g>
     </g>
     <g id="text_109">
      <text style="font-size: 10px; font-family: 'DejaVu Sans', 'Liberation Sans', sans-serif; text-anchor: end" x="624.37" y="659.062053" transform="rotate(-0 624.37 659.062053)">4000</text>
     </g>
    </g>
    <g id="ytick_34">
     <g id="line2d_199">
      <path d="M 631.8000 616.6800 L 1133.6400 616.6800" clip-path="url(#p9e218aaaf5)" style="fill: none; stroke: #b0b0b0; stroke-width: 0.8; stroke-linecap: square"/>
     </g>
     <g id="line2d_200">
      <g>
       <use href="#m37318fec9a" x="631.8000" y="616.6800" style="stroke: #000000; stroke-width: 0.8"/>
      </g>
     </g>
     <g id="text_110">
      <text style="font-size: 10px; font-family: 'DejaVu Sans', 'Liberation Sans', sans-serif; text-anchor: end" x="624.37" y="619.940035" transform="rotate(-0 624.37 619.940035)">5000</text>
     </g>
    </g>
    <g id="text_111">
     <text style="font-size: 10px; font-family: 'DejaVu Sans', 'Liberation Sans', sans-serif; text-anchor: middle" x="592.562188" y="708.86" transform="rotate(-90 592.562188 708.86)">|Z| [Ohm]</text>
    </g>
   </g>
   <g id="line2d_201">
    <path d="M 654.198507 811.723847 
L 802.945342 811.718288 
L 945.494392 811.732829 
L 1110.768653 811.725424 
L 1110.768653 811.725424 
" clip-path="url(#p9e218aaaf5)" style="fill: none; stroke: #0000ff; stroke-width: 1.5; stroke-linecap: square"/>
   </g>
   <g id="line2d_202">
    <path d="M 654.198507 793.623098 
L 660.396292 794.261098 
L 672.791862 794.64264 
L 678.989646 795.270692 
L 691.385216 795.774162 
L 697.583001 796.075762 
L 714.110427 796.458153 
L 807.077199 796.36192 
L 815.340912 795.895628 
L 819.472768 794.368005 
L 821.538697 792.596984 
L 823.604625 790.118025 
L 827.736481 785.805275 
L 829.80241 784.346947 
L 831.868338 783.580339 
L 836.000194 783.247491 
L 838.066123 781.815051 
L 840.132051 778.972008 
L 842.197979 774.081482 
L 844.263907 767.011173 
L 846.329836 757.291654 
L 848.395764 745.481212 
L 850.461692 729.902821 
L 852.527621 718.826397 
L 854.593549 726.413778 
L 856.659477 741.131602 
L 858.725405 748.372647 
L 860.791334 750.415057 
L 862.857262 752.054247 
L 864.92319 752.96853 
L 866.989118 754.338764 
L 869.055047 757.091974 
L 871.120975 762.381154 
L 873.186903 766.369367 
L 875.252831 775.251932 
L 877.31876 792.092338 
L 879.384688 803.532957 
L 881.450616 809.794808 
L 883.516544 811.750909 
L 937.230679 811.672665 
L 943.428464 811.555299 
L 947.560321 810.851103 
L 951.692177 809.325344 
L 953.758105 809.481832 
L 955.824034 810.381638 
L 959.95589 809.716564 
L 966.153675 809.129734 
L 974.417388 806.273826 
L 976.483316 805.882606 
L 978.549245 808.425538 
L 980.615173 809.325344 
L 984.747029 809.560076 
L 986.812958 809.794808 
L 988.878886 810.577249 
L 990.944814 811.164079 
L 993.010742 811.633543 
L 995.076671 811.750909 
L 999.208527 810.499004 
L 1003.340384 809.873052 
L 1009.538169 809.664401 
L 1013.670025 809.403588 
L 1021.933738 809.912174 
L 1028.131523 810.590289 
L 1034.329308 811.398811 
L 1036.395236 810.381638 
L 1040.527092 809.129734 
L 1042.593021 808.46466 
L 1048.790806 808.973246 
L 1057.054519 808.112561 
L 1059.120447 808.151683 
L 1061.186375 807.643097 
L 1063.252303 807.251877 
L 1065.318232 809.403588 
L 1071.516016 810.186028 
L 1073.581945 810.381638 
L 1077.713801 811.007591 
L 1079.779729 810.186028 
L 1081.845658 809.560076 
L 1083.911586 809.481832 
L 1085.977514 808.034317 
L 1088.043443 807.838707 
L 1090.109371 807.056267 
L 1092.175299 805.100166 
L 1094.241227 804.317726 
L 1100.439012 804.630702 
L 1102.50494 805.882606 
L 1104.570869 806.665047 
L 1106.636797 782.526761 
L 1110.768653 788.473308 
L 1110.768653 788.473308 
" clip-path="url(#p9e218aaaf5)" style="fill: none; stroke: #008000; stroke-width: 1.5; stroke-linecap: square"/>
   </g>
   <g id="line2d_203">
    <path d="M 654.198507 794.149479 
L 670.725933 795.580874 
L 676.923718 796.106357 
L 697.583001 797.2921 
L 714.110427 797.738852 
L 805.011271 797.77011 
L 809.143127 797.578151 
L 811.209055 797.089336 
L 813.274984 795.998527 
L 819.472768 791.496658 
L 821.538697 790.457818 
L 823.604625 790.073462 
L 827.736481 789.506334 
L 829.80241 788.834454 
L 831.868338 786.539204 
L 833.934266 783.018696 
L 836.000194 776.260877 
L 838.066123 765.215235 
L 840.132051 747.633453 
L 842.197979 721.579112 
L 844.263907 687.005029 
L 846.329836 665.653739 
L 848.395764 671.37971 
L 850.461692 685.585195 
L 852.527621 690.200837 
L 856.659477 692.684924 
L 858.725405 694.615737 
L 862.857262 699.781942 
L 864.92319 702.510772 
L 866.989118 703.262229 
L 869.055047 701.673339 
L 871.120975 700.388965 
L 873.186903 696.03557 
L 875.252831 697.122727 
L 877.31876 695.206685 
L 879.384688 697.032542 
L 881.450616 691.499216 
L 883.516544 683.953579 
L 885.582473 673.717671 
L 887.648401 665.203336 
L 889.714329 665.043339 
L 891.780258 656.202629 
L 893.846186 651.355881 
L 895.912114 646.991464 
L 897.978042 653.025517 
L 902.109899 704.890492 
L 906.241755 751.217881 
L 908.307684 771.500835 
L 910.373612 788.735322 
L 912.43954 799.163282 
L 914.505468 804.317726 
L 916.571397 806.273826 
L 918.637325 806.860657 
L 922.769181 807.251877 
L 931.032895 806.743291 
L 935.164751 805.491386 
L 937.230679 804.630702 
L 939.296608 804.474214 
L 941.362536 804.630702 
L 943.428464 803.926505 
L 945.494392 802.713723 
L 947.560321 802.713723 
L 949.626249 804.513336 
L 951.692177 800.288158 
L 953.758105 792.77673 
L 955.824034 800.91411 
L 957.889962 797.001908 
L 959.95589 787.651746 
L 962.021818 790.937995 
L 964.087747 798.801521 
L 966.153675 804.513336 
L 968.219603 805.100166 
L 970.285532 807.838707 
L 972.35146 808.425538 
L 974.417388 807.525731 
L 980.615173 805.76524 
L 982.681101 805.217532 
L 984.747029 804.122115 
L 986.812958 803.339675 
L 988.878886 802.870211 
L 990.944814 803.378797 
L 993.010742 804.904556 
L 995.076671 805.491386 
L 997.142599 805.17841 
L 999.208527 805.921728 
L 1003.340384 805.334898 
L 1007.47224 804.122115 
L 1011.604097 803.378797 
L 1013.670025 800.405524 
L 1015.735953 799.388351 
L 1017.801882 791.250971 
L 1019.86781 790.820629 
L 1021.933738 790.664141 
L 1023.999666 790.664141 
L 1026.065595 786.869305 
L 1028.131523 787.182281 
L 1030.197451 792.111656 
L 1032.263379 795.397905 
L 1036.395236 796.84542 
L 1038.461164 797.197518 
L 1040.527092 799.036253 
L 1044.658949 800.992354 
L 1046.724877 803.613529 
L 1048.790806 800.992354 
L 1050.856734 801.187964 
L 1052.922662 804.122115 
L 1054.98859 804.474214 
L 1057.054519 803.183187 
L 1059.120447 802.674601 
L 1061.186375 800.13167 
L 1063.252303 798.645033 
L 1065.318232 789.568725 
L 1067.38416 788.12121 
L 1069.450088 787.182281 
L 1071.516016 771.768206 
L 1073.581945 758.075499 
L 1075.647873 759.757746 
L 1077.713801 741.331275 
L 1079.779729 724.117587 
L 1081.845658 733.506872 
L 1083.911586 745.634698 
L 1085.977514 761.674725 
L 1088.043443 791.759558 
L 1090.109371 791.250971 
L 1092.175299 791.016239 
L 1094.241227 605.969091 
L 1096.307156 771.768206 
L 1098.373084 788.473308 
L 1100.439012 800.835866 
L 1102.50494 803.613529 
L 1104.570869 803.183187 
L 1108.702725 803.261431 
L 1110.768653 803.378797 
L 1110.768653 803.378797 
" clip-path="url(#p9e218aaaf5)" style="fill: none; stroke: #ffa500; stroke-width: 1.5; stroke-linecap: square"/>
   </g>
   <g id="line2d_204">
    <path d="M 631.4400 811.4400 L 1133.2800 811.4400" clip-path="url(#p9e218aaaf5)" style="fill: none; stroke-dasharray: 5.55,2.4; stroke-dashoffset: 0; stroke: #008000; stroke-width: 1.5"/>
   </g>
   <g id="line2d_205">
    <path d="M 631.4400 811.4400 L 1133.2800 811.4400" clip-path="url(#p9e218aaaf5)" style="fill: none; stroke-dasharray: 5.55,2.4; stroke-dashoffset: 0; stroke: #ffa500; stroke-width: 1.5"/>
   </g>
   <g id="line2d_206">
    <path d="M 631.4400 811.4400 L 1133.2800 811.4400" clip-path="url(#p9e218aaaf5)" style="fill: none; stroke-dasharray: 5.55,2.4; stroke-dashoffset: 0; stroke: #ff0000; stroke-width: 1.5"/>
   </g>
   <g id="patch_39">
    <path d="M 631.8000 822.6000 L 631.8000 595.8000" style="fill: none; stroke: #000000; stroke-width: 0.8; stroke-linejoin: miter; stroke-linecap: square"/>
   </g>
   <g id="patch_40">
    <path d="M 1133.6400 822.6000 L 1133.6400 595.8000" style="fill: none; stroke: #000000; stroke-width: 0.8; stroke-linejoin: miter; stroke-linecap: square"/>
   </g>
   <g id="patch_41">
    <path d="M 631.8000 822.6000 L 1133.6400 822.6000" style="fill: none; stroke: #000000; stroke-width: 0.8; stroke-linejoin: miter; stroke-linecap: square"/>
   </g>
   <g id="patch_42">
    <path d="M 631.8000 595.8000 L 1133.6400 595.8000" style="fill: none; stroke: #000000; stroke-width: 0.8; stroke-linejoin: miter; stroke-linecap: square"/>
   </g>
   <g id="text_112">
    <text style="font-size: 12px; font-family: 'DejaVu Sans', 'Liberation Sans', sans-serif; text-anchor: middle" x="882.48358" y="589.68" transform="rotate(-0 882.48358 589.68)">Modul impedancji |Z|</text>
   </g>
   <g id="legend_6">
    <g id="patch_43">
     <path d="M 638.37 692.714375 
L 714.76375 692.714375 
Q 716.76375 692.714375 716.76375 690.714375 
L 716.76375 602.68 
Q 716.76375 600.68 714.76375 600.68 
L 638.37 600.68 
Q 636.37 600.68 636.37 602.68 
L 636.37 690.714375 
Q 636.37 692.714375 638.37 692.714375 
z
" style="fill: #ffffff; opacity: 0.8; stroke: #cccccc; stroke-linejoin: miter"/>
    </g>
    <g id="line2d_207">
     <path d="M 640.0800 609.1200 L 650.1600 609.1200 L 660.2400 609.1200" style="fill: none; stroke: #0000ff; stroke-width: 1.5; stroke-linecap: square"/>
    </g>
    <g id="text_113">
     <text style="font-size: 10px; font-family: 'DejaVu Sans', 'Liberation Sans', sans-serif; text-anchor: start" x="668.37" y="612.322188" transform="rotate(-0 668.37 612.322188)">|Z_L1|</text>
    </g>
    <g id="line2d_208">
     <path d="M 640.0800 623.5200 L 650.1600 623.5200 L 660.2400 623.5200" style="fill: none; stroke: #008000; stroke-width: 1.5; stroke-linecap: square"/>
    </g>
    <g id="text_114">
     <text style="font-size: 10px; font-family: 'DejaVu Sans', 'Liberation Sans', sans-serif; text-anchor: start" x="668.37" y="627.322188" transform="rotate(-0 668.37 627.322188)">|Z_L2|</text>
    </g>
    <g id="line2d_209">
     <path d="M 640.0800 638.6400 L 650.1600 638.6400 L 660.2400 638.6400" style="fill: none; stroke: #ffa500; stroke-width: 1.5; stroke-linecap: square"/>
    </g>
    <g id="text_115">
     <text style="font-size: 10px; font-family: 'DejaVu Sans', 'Liberation Sans', sans-serif; text-anchor: start" x="668.37" y="642.322188" transform="rotate(-0 668.37 642.322188)">|Z_L3|</text>
    </g>
    <g id="line2d_210">
     <path d="M 640.0800 653.7600 L 650.1600 653.7600 L 660.2400 653.7600" style="fill: none; stroke-dasharray: 5.55,2.4; stroke-dashoffset: 0; stroke: #008000; stroke-width: 1.5"/>
    </g>
    <g id="text_116">
     <text style="font-size: 10px; font-family: 'DejaVu Sans', 'Liberation Sans', sans-serif; text-anchor: start" x="668.37" y="657.278438" transform="rotate(-0 668.37 657.278438)">Z1 reach</text>
    </g>
    <g id="line2d_211">
     <path d="M 640.0800 668.1600 L 650.1600 668.1600 L 660.2400 668.1600" style="fill: none; stroke-dasharray: 5.55,2.4; stroke-dashoffset: 0; stroke: #ffa500; stroke-width: 1.5"/>
    </g>
    <g id="text_117">
     <text style="font-size: 10px; font-family: 'DejaVu Sans', 'Liberation Sans', sans-serif; text-anchor: start" x="668.37" y="671.956563" transform="rotate(-0 668.37 671.956563)">Z2 reach</text>
    </g>
    <g id="line2d_212">
     <path d="M 640.0800 683.2800 L 650.1600 683.2800 L 660.2400 683.2800" style="fill: none; stroke-dasharray: 5.55,2.4; stroke-dashoffset: 0; stroke: #ff0000; stroke-width: 1.5"/>
    </g>
    <g id="text_118">
     <text style="font-size: 10px; font-family: 'DejaVu Sans', 'Liberation Sans', sans-serif; text-anchor: start" x="668.37" y="686.634688" transform="rotate(-0 668.37 686.634688)">Z3 reach</text>
    </g>
   </g>
  </g>
 </g>
 <defs>
  <clipPath id="p59557860de">
   <rect x="56.09" y="26.88" width="502.227161" height="226.36"/>
  </clipPath>
  <clipPath id="p8312197129">
   <rect x="631.37" y="26.88" width="502.227161" height="226.36"/>
  </clipPath>
  <clipPath id="p8eb5962b93">
   <rect x="56.09" y="311.28" width="502.227161" height="226.36"/>
  </clipPath>
  <clipPath id="pf9d5635f9f">
   <rect x="631.37" y="311.28" width="502.227161" height="226.36"/>
  </clipPath>
  <clipPath id="pb0f67c6d3d">
   <rect x="56.09" y="595.68" width="502.227161" height="226.36"/>
  </clipPath>
  <clipPath id="p9e218aaaf5">
   <rect x="631.37" y="595.68" width="502.227161" height="226.36"/>
  </clipPath>
 </defs>
</svg>

</body></html>
